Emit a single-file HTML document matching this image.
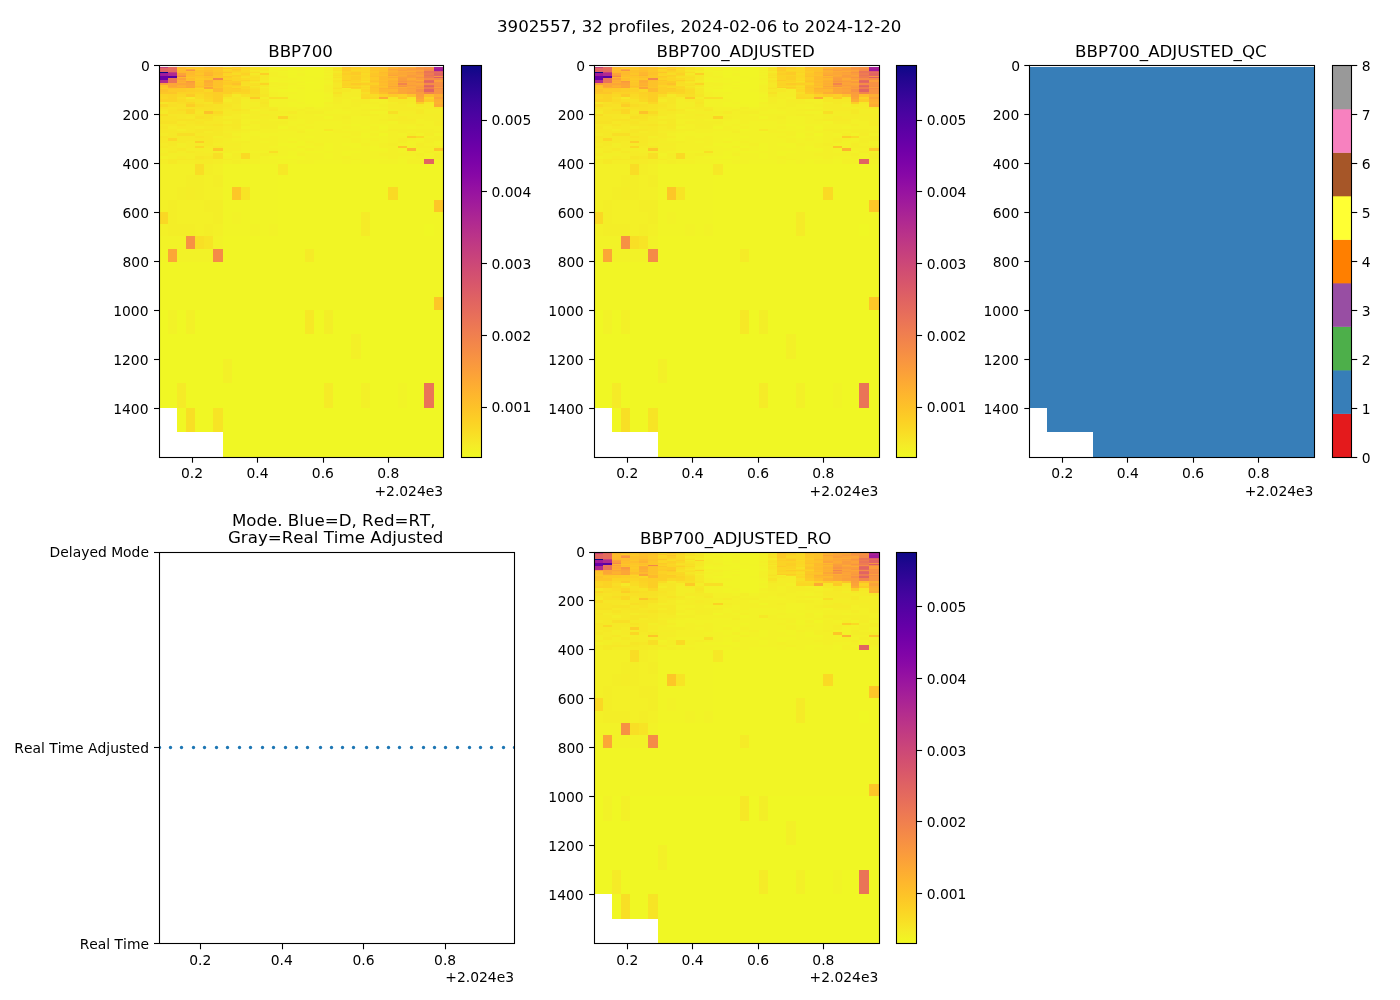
<!DOCTYPE html>
<html><head><meta charset="utf-8"><title>3902557</title>
<style>html,body{margin:0;padding:0;background:#fff}svg{display:block}text{font-variant-ligatures:none;font-kerning:none}</style></head>
<body>
<svg width="1400" height="1000" viewBox="0 0 1400 1000" font-family="DejaVu Sans, Liberation Sans, sans-serif" fill="#000">
<rect width="1400" height="1000" fill="#fff"/>
<defs><linearGradient id="pl" x1="0" y1="0" x2="0" y2="1"><stop offset="0.0000" stop-color="#0d0887"/><stop offset="0.0312" stop-color="#20068f"/><stop offset="0.0625" stop-color="#2f0596"/><stop offset="0.0938" stop-color="#3e049c"/><stop offset="0.1250" stop-color="#4b03a1"/><stop offset="0.1562" stop-color="#5801a4"/><stop offset="0.1875" stop-color="#6400a7"/><stop offset="0.2188" stop-color="#7100a8"/><stop offset="0.2500" stop-color="#7d03a8"/><stop offset="0.2812" stop-color="#8808a6"/><stop offset="0.3125" stop-color="#9410a2"/><stop offset="0.3438" stop-color="#9e199d"/><stop offset="0.3750" stop-color="#a82296"/><stop offset="0.4062" stop-color="#b22b8f"/><stop offset="0.4375" stop-color="#bb3488"/><stop offset="0.4688" stop-color="#c33d80"/><stop offset="0.5000" stop-color="#cb4679"/><stop offset="0.5312" stop-color="#d24f71"/><stop offset="0.5625" stop-color="#d9586a"/><stop offset="0.5938" stop-color="#df6263"/><stop offset="0.6250" stop-color="#e56b5d"/><stop offset="0.6562" stop-color="#eb7556"/><stop offset="0.6875" stop-color="#f07f4f"/><stop offset="0.7188" stop-color="#f48948"/><stop offset="0.7500" stop-color="#f89441"/><stop offset="0.7812" stop-color="#fb9f3a"/><stop offset="0.8125" stop-color="#fdab33"/><stop offset="0.8438" stop-color="#feb72d"/><stop offset="0.8750" stop-color="#fdc328"/><stop offset="0.9062" stop-color="#fcd025"/><stop offset="0.9375" stop-color="#f9dd25"/><stop offset="0.9688" stop-color="#f5eb27"/><stop offset="1.0000" stop-color="#f0f921"/></linearGradient>
<g id="hm" shape-rendering="crispEdges">
<rect x="1" y="1.713" width="8" height="0.857" fill="#c5407e"/>
<rect x="1" y="2.57" width="8" height="4.773" fill="#e16462"/>
<rect x="1" y="7.343" width="8" height="0.735" fill="#0d0887"/>
<rect x="1" y="8.078" width="8" height="2.937" fill="#a11b9b"/>
<rect x="1" y="11.015" width="8" height="3.672" fill="#6a00a8"/>
<rect x="1" y="14.687" width="8" height="3.672" fill="#b12a90"/>
<rect x="1" y="18.359" width="8" height="1.223" fill="#fb9f3a"/>
<rect x="1" y="19.582" width="8" height="2.448" fill="#fdc229"/>
<rect x="1" y="22.03" width="8" height="1.224" fill="#fdc627"/>
<rect x="1" y="23.254" width="8" height="1.224" fill="#fdca26"/>
<rect x="1" y="24.478" width="8" height="2.448" fill="#fdc229"/>
<rect x="1" y="26.926" width="8" height="2.448" fill="#fdc627"/>
<rect x="1" y="29.374" width="8" height="2.448" fill="#fbd524"/>
<rect x="1" y="31.822" width="8" height="2.447" fill="#fbd724"/>
<rect x="1" y="34.269" width="8" height="2.448" fill="#fcd225"/>
<rect x="1" y="36.717" width="8" height="2.448" fill="#f6e626"/>
<rect x="1" y="39.165" width="8" height="2.448" fill="#fad824"/>
<rect x="1" y="41.613" width="8" height="2.448" fill="#f7e225"/>
<rect x="1" y="44.061" width="8" height="2.447" fill="#f6e626"/>
<rect x="1" y="46.508" width="8" height="2.448" fill="#f5e926"/>
<rect x="1" y="48.956" width="8" height="2.448" fill="#f9dc24"/>
<rect x="1" y="51.404" width="8" height="4.896" fill="#f7e425"/>
<rect x="1" y="56.3" width="8" height="2.447" fill="#f7e225"/>
<rect x="1" y="58.747" width="8" height="2.448" fill="#f6e826"/>
<rect x="1" y="61.195" width="8" height="2.448" fill="#f6e626"/>
<rect x="1" y="63.643" width="8" height="4.896" fill="#f6e826"/>
<rect x="1" y="68.539" width="8" height="2.448" fill="#f5eb27"/>
<rect x="1" y="70.987" width="8" height="2.447" fill="#f6e626"/>
<rect x="1" y="73.434" width="8" height="4.896" fill="#f6e826"/>
<rect x="1" y="78.33" width="8" height="2.448" fill="#f5eb27"/>
<rect x="1" y="80.778" width="8" height="2.448" fill="#f5e926"/>
<rect x="1" y="83.226" width="8" height="2.447" fill="#f4ed27"/>
<rect x="1" y="85.673" width="8" height="2.448" fill="#f3ee27"/>
<rect x="1" y="88.121" width="8" height="2.448" fill="#f5eb27"/>
<rect x="1" y="90.569" width="8" height="3.182" fill="#f3f027"/>
<rect x="1" y="93.751" width="8" height="1.714" fill="#f5eb27"/>
<rect x="1" y="95.465" width="8" height="3.427" fill="#f4ed27"/>
<rect x="1" y="98.892" width="8" height="47.977" fill="#f3f027"/>
<rect x="1" y="146.869" width="8" height="12.239" fill="#fad824"/>
<rect x="1" y="159.108" width="8" height="12.239" fill="#f3f027"/>
<rect x="1" y="171.347" width="8" height="12.239" fill="#f2f227"/>
<rect x="1" y="183.586" width="8" height="12.973" fill="#f1f426"/>
<rect x="1" y="196.559" width="8" height="48.222" fill="#f1f525"/>
<rect x="1" y="244.781" width="8" height="97.913" fill="#f0f724"/>
<rect x="9" y="1.713" width="9" height="5.630" fill="#e56b5d"/>
<rect x="9" y="7.343" width="9" height="0.735" fill="#c5407e"/>
<rect x="9" y="8.078" width="9" height="2.937" fill="#b12a90"/>
<rect x="9" y="11.015" width="9" height="2.448" fill="#5601a4"/>
<rect x="9" y="13.463" width="9" height="4.896" fill="#ea7457"/>
<rect x="9" y="18.359" width="9" height="3.671" fill="#fca636"/>
<rect x="9" y="22.03" width="9" height="1.224" fill="#fdae32"/>
<rect x="9" y="23.254" width="9" height="1.224" fill="#fdc627"/>
<rect x="9" y="24.478" width="9" height="2.448" fill="#fdca26"/>
<rect x="9" y="26.926" width="9" height="2.448" fill="#fdc627"/>
<rect x="9" y="29.374" width="9" height="7.343" fill="#fbd324"/>
<rect x="9" y="36.717" width="9" height="2.448" fill="#f8e125"/>
<rect x="9" y="39.165" width="9" height="2.448" fill="#f8df25"/>
<rect x="9" y="41.613" width="9" height="2.448" fill="#f7e425"/>
<rect x="9" y="44.061" width="9" height="2.447" fill="#f7e225"/>
<rect x="9" y="46.508" width="9" height="2.448" fill="#f8e125"/>
<rect x="9" y="48.956" width="9" height="2.448" fill="#f6e626"/>
<rect x="9" y="51.404" width="9" height="4.896" fill="#f7e425"/>
<rect x="9" y="56.3" width="9" height="2.447" fill="#f7e225"/>
<rect x="9" y="58.747" width="9" height="2.448" fill="#f6e826"/>
<rect x="9" y="61.195" width="9" height="2.448" fill="#f5eb27"/>
<rect x="9" y="63.643" width="9" height="2.448" fill="#f5e926"/>
<rect x="9" y="66.091" width="9" height="2.448" fill="#f6e826"/>
<rect x="9" y="68.539" width="9" height="4.895" fill="#f5e926"/>
<rect x="9" y="73.434" width="9" height="2.448" fill="#fbd724"/>
<rect x="9" y="75.882" width="9" height="4.896" fill="#f5e926"/>
<rect x="9" y="80.778" width="9" height="4.895" fill="#f5eb27"/>
<rect x="9" y="85.673" width="9" height="2.448" fill="#f5e926"/>
<rect x="9" y="88.121" width="9" height="5.630" fill="#f3ee27"/>
<rect x="9" y="93.751" width="9" height="5.141" fill="#f5e926"/>
<rect x="9" y="98.892" width="9" height="35.738" fill="#f3f027"/>
<rect x="9" y="134.63" width="9" height="36.717" fill="#f3ee27"/>
<rect x="9" y="171.347" width="9" height="12.239" fill="#f2f227"/>
<rect x="9" y="183.586" width="9" height="12.973" fill="#fca636"/>
<rect x="9" y="196.559" width="9" height="48.222" fill="#f1f525"/>
<rect x="9" y="244.781" width="9" height="24.478" fill="#f2f227"/>
<rect x="9" y="269.259" width="9" height="73.435" fill="#f0f724"/>
<rect x="18" y="1.713" width="9" height="1.959" fill="#feba2c"/>
<rect x="18" y="3.672" width="9" height="1.224" fill="#febe2a"/>
<rect x="18" y="4.896" width="9" height="2.447" fill="#feba2c"/>
<rect x="18" y="7.343" width="9" height="0.735" fill="#feb72d"/>
<rect x="18" y="8.078" width="9" height="1.713" fill="#fca338"/>
<rect x="18" y="9.791" width="9" height="1.224" fill="#fa9c3c"/>
<rect x="18" y="11.015" width="9" height="1.224" fill="#f58b47"/>
<rect x="18" y="12.239" width="9" height="1.224" fill="#feb72d"/>
<rect x="18" y="13.463" width="9" height="1.224" fill="#fca338"/>
<rect x="18" y="14.687" width="9" height="1.224" fill="#fdae32"/>
<rect x="18" y="15.911" width="9" height="1.224" fill="#fdab33"/>
<rect x="18" y="17.135" width="9" height="1.224" fill="#fdb22f"/>
<rect x="18" y="18.359" width="9" height="1.223" fill="#fca636"/>
<rect x="18" y="19.582" width="9" height="1.224" fill="#fdae32"/>
<rect x="18" y="20.806" width="9" height="1.224" fill="#fdb22f"/>
<rect x="18" y="22.03" width="9" height="1.224" fill="#fdab33"/>
<rect x="18" y="23.254" width="9" height="3.672" fill="#fdca26"/>
<rect x="18" y="26.926" width="9" height="2.448" fill="#fbd324"/>
<rect x="18" y="29.374" width="9" height="2.448" fill="#fad824"/>
<rect x="18" y="31.822" width="9" height="2.447" fill="#f9dd25"/>
<rect x="18" y="34.269" width="9" height="2.448" fill="#fada24"/>
<rect x="18" y="36.717" width="9" height="2.448" fill="#f9dd25"/>
<rect x="18" y="39.165" width="9" height="2.448" fill="#f8e125"/>
<rect x="18" y="41.613" width="9" height="2.448" fill="#f7e225"/>
<rect x="18" y="44.061" width="9" height="2.447" fill="#f9dd25"/>
<rect x="18" y="46.508" width="9" height="2.448" fill="#f7e225"/>
<rect x="18" y="48.956" width="9" height="4.896" fill="#f6e626"/>
<rect x="18" y="53.852" width="9" height="2.448" fill="#f7e225"/>
<rect x="18" y="56.3" width="9" height="2.447" fill="#f6e826"/>
<rect x="18" y="58.747" width="9" height="2.448" fill="#f7e425"/>
<rect x="18" y="61.195" width="9" height="2.448" fill="#f6e826"/>
<rect x="18" y="63.643" width="9" height="2.448" fill="#f4ed27"/>
<rect x="18" y="66.091" width="9" height="2.448" fill="#f5e926"/>
<rect x="18" y="68.539" width="9" height="2.448" fill="#f8df25"/>
<rect x="18" y="70.987" width="9" height="7.343" fill="#f5e926"/>
<rect x="18" y="78.33" width="9" height="2.448" fill="#f3ee27"/>
<rect x="18" y="80.778" width="9" height="2.448" fill="#f4ed27"/>
<rect x="18" y="83.226" width="9" height="2.447" fill="#f6e826"/>
<rect x="18" y="85.673" width="9" height="2.448" fill="#f4ed27"/>
<rect x="18" y="88.121" width="9" height="2.448" fill="#f3ee27"/>
<rect x="18" y="90.569" width="9" height="3.182" fill="#f5eb27"/>
<rect x="18" y="93.751" width="9" height="1.714" fill="#f6e826"/>
<rect x="18" y="95.465" width="9" height="3.427" fill="#f4ed27"/>
<rect x="18" y="98.892" width="9" height="23.499" fill="#f3f027"/>
<rect x="18" y="122.391" width="9" height="12.239" fill="#f3ee27"/>
<rect x="18" y="134.63" width="9" height="24.478" fill="#f3f027"/>
<rect x="18" y="159.108" width="9" height="12.239" fill="#f3ee27"/>
<rect x="18" y="171.347" width="9" height="25.212" fill="#f2f227"/>
<rect x="18" y="196.559" width="9" height="48.222" fill="#f1f525"/>
<rect x="18" y="244.781" width="9" height="73.435" fill="#f0f724"/>
<rect x="18" y="318.216" width="9" height="24.478" fill="#f5eb27"/>
<rect x="18" y="342.694" width="9" height="24.478" fill="#f0f724"/>
<rect x="27" y="1.713" width="9" height="0.857" fill="#fdc229"/>
<rect x="27" y="2.57" width="9" height="1.102" fill="#fdca26"/>
<rect x="27" y="3.672" width="9" height="1.224" fill="#fca636"/>
<rect x="27" y="4.896" width="9" height="1.224" fill="#f89441"/>
<rect x="27" y="6.12" width="9" height="1.223" fill="#febe2a"/>
<rect x="27" y="7.343" width="9" height="2.448" fill="#feba2c"/>
<rect x="27" y="9.791" width="9" height="2.448" fill="#febe2a"/>
<rect x="27" y="12.239" width="9" height="1.224" fill="#fdc627"/>
<rect x="27" y="13.463" width="9" height="1.224" fill="#febe2a"/>
<rect x="27" y="14.687" width="9" height="1.224" fill="#fdc229"/>
<rect x="27" y="15.911" width="9" height="1.224" fill="#f9983e"/>
<rect x="27" y="17.135" width="9" height="1.224" fill="#fb9f3a"/>
<rect x="27" y="18.359" width="9" height="1.223" fill="#fca338"/>
<rect x="27" y="19.582" width="9" height="2.448" fill="#fca636"/>
<rect x="27" y="22.03" width="9" height="1.224" fill="#fca338"/>
<rect x="27" y="23.254" width="9" height="3.672" fill="#fcce25"/>
<rect x="27" y="26.926" width="9" height="2.448" fill="#fcd225"/>
<rect x="27" y="29.374" width="9" height="2.448" fill="#fdca26"/>
<rect x="27" y="31.822" width="9" height="2.447" fill="#f5e926"/>
<rect x="27" y="34.269" width="9" height="2.448" fill="#f8df25"/>
<rect x="27" y="36.717" width="9" height="2.448" fill="#fbd724"/>
<rect x="27" y="39.165" width="9" height="2.448" fill="#fcce25"/>
<rect x="27" y="41.613" width="9" height="2.448" fill="#f8e125"/>
<rect x="27" y="44.061" width="9" height="4.895" fill="#fbd724"/>
<rect x="27" y="48.956" width="9" height="2.448" fill="#f6e626"/>
<rect x="27" y="51.404" width="9" height="2.448" fill="#f6e826"/>
<rect x="27" y="53.852" width="9" height="2.448" fill="#f7e225"/>
<rect x="27" y="56.3" width="9" height="2.447" fill="#f6e626"/>
<rect x="27" y="58.747" width="9" height="2.448" fill="#f6e826"/>
<rect x="27" y="61.195" width="9" height="4.896" fill="#f5e926"/>
<rect x="27" y="66.091" width="9" height="2.448" fill="#f6e826"/>
<rect x="27" y="68.539" width="9" height="2.448" fill="#f8df25"/>
<rect x="27" y="70.987" width="9" height="4.895" fill="#f5e926"/>
<rect x="27" y="75.882" width="9" height="7.344" fill="#f5eb27"/>
<rect x="27" y="83.226" width="9" height="2.447" fill="#f4ed27"/>
<rect x="27" y="85.673" width="9" height="2.448" fill="#f5e926"/>
<rect x="27" y="88.121" width="9" height="5.630" fill="#f4ed27"/>
<rect x="27" y="93.751" width="9" height="1.714" fill="#f5e926"/>
<rect x="27" y="95.465" width="9" height="3.427" fill="#f4ed27"/>
<rect x="27" y="98.892" width="9" height="11.260" fill="#f3f027"/>
<rect x="27" y="110.152" width="9" height="12.239" fill="#f3ee27"/>
<rect x="27" y="122.391" width="9" height="12.239" fill="#f4ed27"/>
<rect x="27" y="134.63" width="9" height="24.478" fill="#f3f027"/>
<rect x="27" y="159.108" width="9" height="12.239" fill="#f3ee27"/>
<rect x="27" y="171.347" width="9" height="12.239" fill="#f79143"/>
<rect x="27" y="183.586" width="9" height="12.973" fill="#f2f227"/>
<rect x="27" y="196.559" width="9" height="48.222" fill="#f1f525"/>
<rect x="27" y="244.781" width="9" height="24.478" fill="#f3f027"/>
<rect x="27" y="269.259" width="9" height="73.435" fill="#f0f724"/>
<rect x="27" y="342.694" width="9" height="24.478" fill="#f8df25"/>
<rect x="36" y="1.713" width="9" height="0.857" fill="#fdca26"/>
<rect x="36" y="2.57" width="9" height="1.102" fill="#fdc627"/>
<rect x="36" y="3.672" width="9" height="1.224" fill="#fdca26"/>
<rect x="36" y="4.896" width="9" height="3.182" fill="#fdc229"/>
<rect x="36" y="8.078" width="9" height="1.713" fill="#fdc627"/>
<rect x="36" y="9.791" width="9" height="1.224" fill="#febe2a"/>
<rect x="36" y="11.015" width="9" height="2.448" fill="#fdc627"/>
<rect x="36" y="13.463" width="9" height="1.224" fill="#fdca26"/>
<rect x="36" y="14.687" width="9" height="1.224" fill="#fdc627"/>
<rect x="36" y="15.911" width="9" height="1.224" fill="#fdca26"/>
<rect x="36" y="17.135" width="9" height="3.671" fill="#fdc627"/>
<rect x="36" y="20.806" width="9" height="1.224" fill="#febe2a"/>
<rect x="36" y="22.03" width="9" height="1.224" fill="#fdc627"/>
<rect x="36" y="23.254" width="9" height="1.224" fill="#fbd524"/>
<rect x="36" y="24.478" width="9" height="2.448" fill="#fcd025"/>
<rect x="36" y="26.926" width="9" height="2.448" fill="#fbd524"/>
<rect x="36" y="29.374" width="9" height="2.448" fill="#fada24"/>
<rect x="36" y="31.822" width="9" height="2.447" fill="#f9dc24"/>
<rect x="36" y="34.269" width="9" height="2.448" fill="#f7e225"/>
<rect x="36" y="36.717" width="9" height="2.448" fill="#f8e125"/>
<rect x="36" y="39.165" width="9" height="2.448" fill="#f9dc24"/>
<rect x="36" y="41.613" width="9" height="2.448" fill="#f8e125"/>
<rect x="36" y="44.061" width="9" height="2.447" fill="#f7e425"/>
<rect x="36" y="46.508" width="9" height="2.448" fill="#f6e626"/>
<rect x="36" y="48.956" width="9" height="2.448" fill="#f7e425"/>
<rect x="36" y="51.404" width="9" height="2.448" fill="#f8df25"/>
<rect x="36" y="53.852" width="9" height="2.448" fill="#f6e626"/>
<rect x="36" y="56.3" width="9" height="2.447" fill="#f7e425"/>
<rect x="36" y="58.747" width="9" height="2.448" fill="#f6e626"/>
<rect x="36" y="61.195" width="9" height="2.448" fill="#f5eb27"/>
<rect x="36" y="63.643" width="9" height="4.896" fill="#f6e626"/>
<rect x="36" y="68.539" width="9" height="2.448" fill="#f5e926"/>
<rect x="36" y="70.987" width="9" height="2.447" fill="#f7e425"/>
<rect x="36" y="73.434" width="9" height="2.448" fill="#f6e826"/>
<rect x="36" y="75.882" width="9" height="2.448" fill="#fcce25"/>
<rect x="36" y="78.33" width="9" height="2.448" fill="#f5eb27"/>
<rect x="36" y="80.778" width="9" height="2.448" fill="#fbd724"/>
<rect x="36" y="83.226" width="9" height="2.447" fill="#f4ed27"/>
<rect x="36" y="85.673" width="9" height="4.896" fill="#f5eb27"/>
<rect x="36" y="90.569" width="9" height="3.182" fill="#f6e626"/>
<rect x="36" y="93.751" width="9" height="1.714" fill="#f5e926"/>
<rect x="36" y="95.465" width="9" height="3.427" fill="#f5eb27"/>
<rect x="36" y="98.892" width="9" height="11.260" fill="#f9dd25"/>
<rect x="36" y="110.152" width="9" height="24.478" fill="#f3ee27"/>
<rect x="36" y="134.63" width="9" height="36.717" fill="#f3f027"/>
<rect x="36" y="171.347" width="9" height="12.239" fill="#f8df25"/>
<rect x="36" y="183.586" width="9" height="12.973" fill="#f2f227"/>
<rect x="36" y="196.559" width="9" height="48.222" fill="#f1f525"/>
<rect x="36" y="244.781" width="9" height="122.391" fill="#f0f724"/>
<rect x="45" y="1.713" width="9" height="0.857" fill="#febe2a"/>
<rect x="45" y="2.57" width="9" height="2.326" fill="#fdc229"/>
<rect x="45" y="4.896" width="9" height="2.447" fill="#febe2a"/>
<rect x="45" y="7.343" width="9" height="2.448" fill="#feb72d"/>
<rect x="45" y="9.791" width="9" height="1.224" fill="#fdb22f"/>
<rect x="45" y="11.015" width="9" height="1.224" fill="#fdc229"/>
<rect x="45" y="12.239" width="9" height="1.224" fill="#febe2a"/>
<rect x="45" y="13.463" width="9" height="1.224" fill="#fdc627"/>
<rect x="45" y="14.687" width="9" height="1.224" fill="#fdae32"/>
<rect x="45" y="15.911" width="9" height="1.224" fill="#fdab33"/>
<rect x="45" y="17.135" width="9" height="1.224" fill="#fdae32"/>
<rect x="45" y="18.359" width="9" height="1.223" fill="#fdb22f"/>
<rect x="45" y="19.582" width="9" height="1.224" fill="#fdae32"/>
<rect x="45" y="20.806" width="9" height="1.224" fill="#feba2c"/>
<rect x="45" y="22.03" width="9" height="1.224" fill="#fca338"/>
<rect x="45" y="23.254" width="9" height="1.224" fill="#fca636"/>
<rect x="45" y="24.478" width="9" height="2.448" fill="#fad824"/>
<rect x="45" y="26.926" width="9" height="2.448" fill="#fcd025"/>
<rect x="45" y="29.374" width="9" height="2.448" fill="#fbd324"/>
<rect x="45" y="31.822" width="9" height="2.447" fill="#fbd524"/>
<rect x="45" y="34.269" width="9" height="2.448" fill="#fad824"/>
<rect x="45" y="36.717" width="9" height="2.448" fill="#f7e425"/>
<rect x="45" y="39.165" width="9" height="2.448" fill="#f8df25"/>
<rect x="45" y="41.613" width="9" height="4.895" fill="#f8e125"/>
<rect x="45" y="46.508" width="9" height="2.448" fill="#fdc229"/>
<rect x="45" y="48.956" width="9" height="4.896" fill="#f7e225"/>
<rect x="45" y="53.852" width="9" height="2.448" fill="#f7e425"/>
<rect x="45" y="56.3" width="9" height="2.447" fill="#f6e826"/>
<rect x="45" y="58.747" width="9" height="2.448" fill="#f6e626"/>
<rect x="45" y="61.195" width="9" height="2.448" fill="#f5e926"/>
<rect x="45" y="63.643" width="9" height="2.448" fill="#f6e626"/>
<rect x="45" y="66.091" width="9" height="2.448" fill="#f5eb27"/>
<rect x="45" y="68.539" width="9" height="2.448" fill="#f5e926"/>
<rect x="45" y="70.987" width="9" height="7.343" fill="#f6e826"/>
<rect x="45" y="78.33" width="9" height="2.448" fill="#f5e926"/>
<rect x="45" y="80.778" width="9" height="2.448" fill="#f5eb27"/>
<rect x="45" y="83.226" width="9" height="4.895" fill="#f4ed27"/>
<rect x="45" y="88.121" width="9" height="2.448" fill="#f5eb27"/>
<rect x="45" y="90.569" width="9" height="3.182" fill="#f6e826"/>
<rect x="45" y="93.751" width="9" height="5.141" fill="#f5eb27"/>
<rect x="45" y="98.892" width="9" height="11.260" fill="#f3ee27"/>
<rect x="45" y="110.152" width="9" height="24.478" fill="#f3f027"/>
<rect x="45" y="134.63" width="9" height="12.239" fill="#f3ee27"/>
<rect x="45" y="146.869" width="9" height="12.239" fill="#f3f027"/>
<rect x="45" y="159.108" width="9" height="12.239" fill="#f3ee27"/>
<rect x="45" y="171.347" width="9" height="12.239" fill="#f7e425"/>
<rect x="45" y="183.586" width="9" height="12.973" fill="#f2f227"/>
<rect x="45" y="196.559" width="9" height="48.222" fill="#f1f525"/>
<rect x="45" y="244.781" width="9" height="122.391" fill="#f0f724"/>
<rect x="54" y="1.713" width="10" height="0.857" fill="#fdc627"/>
<rect x="54" y="2.57" width="10" height="1.102" fill="#fdc229"/>
<rect x="54" y="3.672" width="10" height="3.671" fill="#fdc627"/>
<rect x="54" y="7.343" width="10" height="2.448" fill="#fdc229"/>
<rect x="54" y="9.791" width="10" height="3.672" fill="#fdc627"/>
<rect x="54" y="13.463" width="10" height="1.224" fill="#f3874a"/>
<rect x="54" y="14.687" width="10" height="1.224" fill="#febe2a"/>
<rect x="54" y="15.911" width="10" height="6.119" fill="#fdc229"/>
<rect x="54" y="22.03" width="10" height="1.224" fill="#fdc627"/>
<rect x="54" y="23.254" width="10" height="3.672" fill="#feba2c"/>
<rect x="54" y="26.926" width="10" height="9.791" fill="#fcce25"/>
<rect x="54" y="36.717" width="10" height="2.448" fill="#fbd724"/>
<rect x="54" y="39.165" width="10" height="4.896" fill="#f7e225"/>
<rect x="54" y="44.061" width="10" height="2.447" fill="#f7e425"/>
<rect x="54" y="46.508" width="10" height="2.448" fill="#fada24"/>
<rect x="54" y="48.956" width="10" height="2.448" fill="#f7e225"/>
<rect x="54" y="51.404" width="10" height="2.448" fill="#f6e826"/>
<rect x="54" y="53.852" width="10" height="2.448" fill="#f5e926"/>
<rect x="54" y="56.3" width="10" height="2.447" fill="#f6e826"/>
<rect x="54" y="58.747" width="10" height="2.448" fill="#f7e425"/>
<rect x="54" y="61.195" width="10" height="4.896" fill="#f6e826"/>
<rect x="54" y="66.091" width="10" height="4.896" fill="#f5e926"/>
<rect x="54" y="70.987" width="10" height="2.447" fill="#f3ee27"/>
<rect x="54" y="73.434" width="10" height="4.896" fill="#f5eb27"/>
<rect x="54" y="78.33" width="10" height="2.448" fill="#f4ed27"/>
<rect x="54" y="80.778" width="10" height="2.448" fill="#f5e926"/>
<rect x="54" y="83.226" width="10" height="2.447" fill="#fdc627"/>
<rect x="54" y="85.673" width="10" height="2.448" fill="#f4ed27"/>
<rect x="54" y="88.121" width="10" height="5.630" fill="#f8df25"/>
<rect x="54" y="93.751" width="10" height="5.141" fill="#f4ed27"/>
<rect x="54" y="98.892" width="10" height="11.260" fill="#f3f027"/>
<rect x="54" y="110.152" width="10" height="12.239" fill="#f3ee27"/>
<rect x="54" y="122.391" width="10" height="12.239" fill="#f3f027"/>
<rect x="54" y="134.63" width="10" height="24.478" fill="#f3ee27"/>
<rect x="54" y="159.108" width="10" height="12.239" fill="#f3f027"/>
<rect x="54" y="171.347" width="10" height="12.239" fill="#f2f227"/>
<rect x="54" y="183.586" width="10" height="12.973" fill="#f58b47"/>
<rect x="54" y="196.559" width="10" height="48.222" fill="#f1f525"/>
<rect x="54" y="244.781" width="10" height="97.913" fill="#f0f724"/>
<rect x="54" y="342.694" width="10" height="24.478" fill="#f7e425"/>
<rect x="64" y="1.713" width="9" height="0.857" fill="#fada24"/>
<rect x="64" y="2.57" width="9" height="1.102" fill="#fdc627"/>
<rect x="64" y="3.672" width="9" height="1.224" fill="#fbd724"/>
<rect x="64" y="4.896" width="9" height="1.224" fill="#fbd524"/>
<rect x="64" y="6.12" width="9" height="1.223" fill="#fcd225"/>
<rect x="64" y="7.343" width="9" height="0.735" fill="#fdc627"/>
<rect x="64" y="8.078" width="9" height="1.713" fill="#fbd524"/>
<rect x="64" y="9.791" width="9" height="1.224" fill="#fbd724"/>
<rect x="64" y="11.015" width="9" height="1.224" fill="#fdca26"/>
<rect x="64" y="12.239" width="9" height="1.224" fill="#fcce25"/>
<rect x="64" y="13.463" width="9" height="1.224" fill="#fbd324"/>
<rect x="64" y="14.687" width="9" height="1.224" fill="#fdc627"/>
<rect x="64" y="15.911" width="9" height="1.224" fill="#fcce25"/>
<rect x="64" y="17.135" width="9" height="2.447" fill="#fdca26"/>
<rect x="64" y="19.582" width="9" height="1.224" fill="#fbd324"/>
<rect x="64" y="20.806" width="9" height="1.224" fill="#fcd225"/>
<rect x="64" y="22.03" width="9" height="7.344" fill="#fcce25"/>
<rect x="64" y="29.374" width="9" height="2.448" fill="#f9dc24"/>
<rect x="64" y="31.822" width="9" height="2.447" fill="#f6e626"/>
<rect x="64" y="34.269" width="9" height="2.448" fill="#f5eb27"/>
<rect x="64" y="36.717" width="9" height="2.448" fill="#f6e626"/>
<rect x="64" y="39.165" width="9" height="2.448" fill="#f7e425"/>
<rect x="64" y="41.613" width="9" height="2.448" fill="#f6e626"/>
<rect x="64" y="44.061" width="9" height="2.447" fill="#f6e826"/>
<rect x="64" y="46.508" width="9" height="2.448" fill="#f5e926"/>
<rect x="64" y="48.956" width="9" height="2.448" fill="#f6e826"/>
<rect x="64" y="51.404" width="9" height="2.448" fill="#f4ed27"/>
<rect x="64" y="53.852" width="9" height="2.448" fill="#f5e926"/>
<rect x="64" y="56.3" width="9" height="2.447" fill="#f4ed27"/>
<rect x="64" y="58.747" width="9" height="2.448" fill="#f6e826"/>
<rect x="64" y="61.195" width="9" height="4.896" fill="#f5eb27"/>
<rect x="64" y="66.091" width="9" height="2.448" fill="#f4ed27"/>
<rect x="64" y="68.539" width="9" height="4.895" fill="#f5eb27"/>
<rect x="64" y="73.434" width="9" height="2.448" fill="#f4ed27"/>
<rect x="64" y="75.882" width="9" height="2.448" fill="#f3ee27"/>
<rect x="64" y="78.33" width="9" height="2.448" fill="#f4ed27"/>
<rect x="64" y="80.778" width="9" height="2.448" fill="#f3ee27"/>
<rect x="64" y="83.226" width="9" height="2.447" fill="#f4ed27"/>
<rect x="64" y="85.673" width="9" height="2.448" fill="#f3ee27"/>
<rect x="64" y="88.121" width="9" height="2.448" fill="#f2f227"/>
<rect x="64" y="90.569" width="9" height="3.182" fill="#f3f027"/>
<rect x="64" y="93.751" width="9" height="1.714" fill="#f5eb27"/>
<rect x="64" y="95.465" width="9" height="3.427" fill="#f3f027"/>
<rect x="64" y="98.892" width="9" height="72.455" fill="#f1f426"/>
<rect x="64" y="171.347" width="9" height="73.434" fill="#f1f525"/>
<rect x="64" y="244.781" width="9" height="48.956" fill="#f0f724"/>
<rect x="64" y="293.737" width="9" height="24.479" fill="#f3f027"/>
<rect x="64" y="318.216" width="9" height="74.784" fill="#f0f724"/>
<rect x="73" y="1.713" width="9" height="0.857" fill="#fdca26"/>
<rect x="73" y="2.57" width="9" height="1.102" fill="#fcd225"/>
<rect x="73" y="3.672" width="9" height="1.224" fill="#fdc627"/>
<rect x="73" y="4.896" width="9" height="1.224" fill="#fcce25"/>
<rect x="73" y="6.12" width="9" height="1.223" fill="#fbd324"/>
<rect x="73" y="7.343" width="9" height="0.735" fill="#fad824"/>
<rect x="73" y="8.078" width="9" height="1.713" fill="#f9dc24"/>
<rect x="73" y="9.791" width="9" height="1.224" fill="#fcd025"/>
<rect x="73" y="11.015" width="9" height="1.224" fill="#fbd324"/>
<rect x="73" y="12.239" width="9" height="1.224" fill="#fbd724"/>
<rect x="73" y="13.463" width="9" height="2.448" fill="#fbd524"/>
<rect x="73" y="15.911" width="9" height="2.448" fill="#fdca26"/>
<rect x="73" y="18.359" width="9" height="1.223" fill="#fdc229"/>
<rect x="73" y="19.582" width="9" height="1.224" fill="#fcce25"/>
<rect x="73" y="20.806" width="9" height="1.224" fill="#fbd524"/>
<rect x="73" y="22.03" width="9" height="1.224" fill="#fbd724"/>
<rect x="73" y="23.254" width="9" height="1.224" fill="#fdca26"/>
<rect x="73" y="24.478" width="9" height="2.448" fill="#fcce25"/>
<rect x="73" y="26.926" width="9" height="2.448" fill="#fad824"/>
<rect x="73" y="29.374" width="9" height="2.448" fill="#f5e926"/>
<rect x="73" y="31.822" width="9" height="7.343" fill="#f6e626"/>
<rect x="73" y="39.165" width="9" height="4.896" fill="#f6e826"/>
<rect x="73" y="44.061" width="9" height="2.447" fill="#f7e425"/>
<rect x="73" y="46.508" width="9" height="2.448" fill="#f5e926"/>
<rect x="73" y="48.956" width="9" height="4.896" fill="#f5eb27"/>
<rect x="73" y="53.852" width="9" height="4.895" fill="#f5e926"/>
<rect x="73" y="58.747" width="9" height="2.448" fill="#f6e826"/>
<rect x="73" y="61.195" width="9" height="2.448" fill="#f5e926"/>
<rect x="73" y="63.643" width="9" height="2.448" fill="#f5eb27"/>
<rect x="73" y="66.091" width="9" height="2.448" fill="#f3ee27"/>
<rect x="73" y="68.539" width="9" height="2.448" fill="#f3f027"/>
<rect x="73" y="70.987" width="9" height="2.447" fill="#f4ed27"/>
<rect x="73" y="73.434" width="9" height="2.448" fill="#f3f027"/>
<rect x="73" y="75.882" width="9" height="2.448" fill="#f3ee27"/>
<rect x="73" y="78.33" width="9" height="2.448" fill="#f4ed27"/>
<rect x="73" y="80.778" width="9" height="2.448" fill="#f3ee27"/>
<rect x="73" y="83.226" width="9" height="2.447" fill="#f4ed27"/>
<rect x="73" y="85.673" width="9" height="2.448" fill="#f3f027"/>
<rect x="73" y="88.121" width="9" height="2.448" fill="#f4ed27"/>
<rect x="73" y="90.569" width="9" height="3.182" fill="#f3ee27"/>
<rect x="73" y="93.751" width="9" height="1.714" fill="#f3f027"/>
<rect x="73" y="95.465" width="9" height="3.427" fill="#f3ee27"/>
<rect x="73" y="98.892" width="9" height="23.499" fill="#f1f426"/>
<rect x="73" y="122.391" width="9" height="12.239" fill="#fdc627"/>
<rect x="73" y="134.63" width="9" height="12.239" fill="#f1f426"/>
<rect x="73" y="146.869" width="9" height="12.239" fill="#f2f227"/>
<rect x="73" y="159.108" width="9" height="12.239" fill="#f1f426"/>
<rect x="73" y="171.347" width="9" height="73.434" fill="#f1f525"/>
<rect x="73" y="244.781" width="9" height="148.219" fill="#f0f724"/>
<rect x="82" y="1.713" width="9" height="0.857" fill="#fad824"/>
<rect x="82" y="2.57" width="9" height="1.102" fill="#fbd724"/>
<rect x="82" y="3.672" width="9" height="1.224" fill="#f9dc24"/>
<rect x="82" y="4.896" width="9" height="2.447" fill="#fada24"/>
<rect x="82" y="7.343" width="9" height="0.735" fill="#fad824"/>
<rect x="82" y="8.078" width="9" height="1.713" fill="#fcd225"/>
<rect x="82" y="9.791" width="9" height="1.224" fill="#fad824"/>
<rect x="82" y="11.015" width="9" height="1.224" fill="#f8df25"/>
<rect x="82" y="12.239" width="9" height="1.224" fill="#f8e125"/>
<rect x="82" y="13.463" width="9" height="1.224" fill="#fada24"/>
<rect x="82" y="14.687" width="9" height="1.224" fill="#fcd025"/>
<rect x="82" y="15.911" width="9" height="1.224" fill="#f9dc24"/>
<rect x="82" y="17.135" width="9" height="2.447" fill="#f8df25"/>
<rect x="82" y="19.582" width="9" height="1.224" fill="#f8e125"/>
<rect x="82" y="20.806" width="9" height="1.224" fill="#fad824"/>
<rect x="82" y="22.03" width="9" height="1.224" fill="#fbd524"/>
<rect x="82" y="23.254" width="9" height="1.224" fill="#fad824"/>
<rect x="82" y="24.478" width="9" height="2.448" fill="#fbd324"/>
<rect x="82" y="26.926" width="9" height="2.448" fill="#fbd524"/>
<rect x="82" y="29.374" width="9" height="2.448" fill="#f8e125"/>
<rect x="82" y="31.822" width="9" height="2.447" fill="#f5eb27"/>
<rect x="82" y="34.269" width="9" height="9.792" fill="#f3ee27"/>
<rect x="82" y="44.061" width="9" height="2.447" fill="#f5e926"/>
<rect x="82" y="46.508" width="9" height="2.448" fill="#f5eb27"/>
<rect x="82" y="48.956" width="9" height="2.448" fill="#f3f027"/>
<rect x="82" y="51.404" width="9" height="2.448" fill="#f3ee27"/>
<rect x="82" y="53.852" width="9" height="4.895" fill="#f3f027"/>
<rect x="82" y="58.747" width="9" height="2.448" fill="#f3ee27"/>
<rect x="82" y="61.195" width="9" height="2.448" fill="#f2f227"/>
<rect x="82" y="63.643" width="9" height="2.448" fill="#f3ee27"/>
<rect x="82" y="66.091" width="9" height="2.448" fill="#f3f027"/>
<rect x="82" y="68.539" width="9" height="7.343" fill="#f2f227"/>
<rect x="82" y="75.882" width="9" height="2.448" fill="#f3ee27"/>
<rect x="82" y="78.33" width="9" height="7.343" fill="#f3f027"/>
<rect x="82" y="85.673" width="9" height="2.448" fill="#f2f227"/>
<rect x="82" y="88.121" width="9" height="5.630" fill="#fada24"/>
<rect x="82" y="93.751" width="9" height="1.714" fill="#f2f227"/>
<rect x="82" y="95.465" width="9" height="3.427" fill="#f3f027"/>
<rect x="82" y="98.892" width="9" height="23.499" fill="#f1f426"/>
<rect x="82" y="122.391" width="9" height="12.239" fill="#f7e425"/>
<rect x="82" y="134.63" width="9" height="36.717" fill="#f1f426"/>
<rect x="82" y="171.347" width="9" height="73.434" fill="#f1f525"/>
<rect x="82" y="244.781" width="9" height="148.219" fill="#f0f724"/>
<rect x="91" y="1.713" width="10" height="0.857" fill="#f7e425"/>
<rect x="91" y="2.57" width="10" height="2.326" fill="#f7e225"/>
<rect x="91" y="4.896" width="10" height="1.224" fill="#f6e826"/>
<rect x="91" y="6.12" width="10" height="1.223" fill="#f6e626"/>
<rect x="91" y="7.343" width="10" height="0.735" fill="#f8df25"/>
<rect x="91" y="8.078" width="10" height="1.713" fill="#f5e926"/>
<rect x="91" y="9.791" width="10" height="1.224" fill="#f7e425"/>
<rect x="91" y="11.015" width="10" height="1.224" fill="#f7e225"/>
<rect x="91" y="12.239" width="10" height="1.224" fill="#f8df25"/>
<rect x="91" y="13.463" width="10" height="1.224" fill="#f8e125"/>
<rect x="91" y="14.687" width="10" height="1.224" fill="#f9dc24"/>
<rect x="91" y="15.911" width="10" height="1.224" fill="#f7e425"/>
<rect x="91" y="17.135" width="10" height="1.224" fill="#f6e826"/>
<rect x="91" y="18.359" width="10" height="1.223" fill="#f8e125"/>
<rect x="91" y="19.582" width="10" height="1.224" fill="#f8df25"/>
<rect x="91" y="20.806" width="10" height="1.224" fill="#f6e626"/>
<rect x="91" y="22.03" width="10" height="1.224" fill="#f7e225"/>
<rect x="91" y="23.254" width="10" height="1.224" fill="#f8df25"/>
<rect x="91" y="24.478" width="10" height="4.896" fill="#f9dc24"/>
<rect x="91" y="29.374" width="10" height="2.448" fill="#f8df25"/>
<rect x="91" y="31.822" width="10" height="2.447" fill="#fdca26"/>
<rect x="91" y="34.269" width="10" height="2.448" fill="#f5eb27"/>
<rect x="91" y="36.717" width="10" height="4.896" fill="#f3ee27"/>
<rect x="91" y="41.613" width="10" height="2.448" fill="#f5eb27"/>
<rect x="91" y="44.061" width="10" height="2.447" fill="#f3f027"/>
<rect x="91" y="46.508" width="10" height="2.448" fill="#f4ed27"/>
<rect x="91" y="48.956" width="10" height="2.448" fill="#f3ee27"/>
<rect x="91" y="51.404" width="10" height="2.448" fill="#f4ed27"/>
<rect x="91" y="53.852" width="10" height="2.448" fill="#f3f027"/>
<rect x="91" y="56.3" width="10" height="2.447" fill="#f4ed27"/>
<rect x="91" y="58.747" width="10" height="4.896" fill="#f3f027"/>
<rect x="91" y="63.643" width="10" height="2.448" fill="#f3ee27"/>
<rect x="91" y="66.091" width="10" height="4.896" fill="#f2f227"/>
<rect x="91" y="70.987" width="10" height="14.686" fill="#f3f027"/>
<rect x="91" y="85.673" width="10" height="2.448" fill="#f2f227"/>
<rect x="91" y="88.121" width="10" height="5.630" fill="#f3f027"/>
<rect x="91" y="93.751" width="10" height="1.714" fill="#f2f227"/>
<rect x="91" y="95.465" width="10" height="3.427" fill="#f3f027"/>
<rect x="91" y="98.892" width="10" height="60.216" fill="#f1f426"/>
<rect x="91" y="159.108" width="10" height="12.239" fill="#f2f227"/>
<rect x="91" y="171.347" width="10" height="73.434" fill="#f1f525"/>
<rect x="91" y="244.781" width="10" height="148.219" fill="#f0f724"/>
<rect x="101" y="1.713" width="9" height="0.857" fill="#f5eb27"/>
<rect x="101" y="2.57" width="9" height="1.102" fill="#f5e926"/>
<rect x="101" y="3.672" width="9" height="1.224" fill="#f6e626"/>
<rect x="101" y="4.896" width="9" height="1.224" fill="#f5e926"/>
<rect x="101" y="6.12" width="9" height="1.223" fill="#f3ee27"/>
<rect x="101" y="7.343" width="9" height="0.735" fill="#f5eb27"/>
<rect x="101" y="8.078" width="9" height="1.713" fill="#fcd025"/>
<rect x="101" y="9.791" width="9" height="1.224" fill="#f5e926"/>
<rect x="101" y="11.015" width="9" height="1.224" fill="#f6e826"/>
<rect x="101" y="12.239" width="9" height="2.448" fill="#f5e926"/>
<rect x="101" y="14.687" width="9" height="1.224" fill="#f5eb27"/>
<rect x="101" y="15.911" width="9" height="1.224" fill="#f4ed27"/>
<rect x="101" y="17.135" width="9" height="1.224" fill="#f5e926"/>
<rect x="101" y="18.359" width="9" height="1.223" fill="#fbd524"/>
<rect x="101" y="19.582" width="9" height="1.224" fill="#f6e826"/>
<rect x="101" y="20.806" width="9" height="1.224" fill="#f5e926"/>
<rect x="101" y="22.03" width="9" height="1.224" fill="#f4ed27"/>
<rect x="101" y="23.254" width="9" height="6.120" fill="#f5e926"/>
<rect x="101" y="29.374" width="9" height="2.448" fill="#f6e626"/>
<rect x="101" y="31.822" width="9" height="2.447" fill="#f4ed27"/>
<rect x="101" y="34.269" width="9" height="2.448" fill="#f6e826"/>
<rect x="101" y="36.717" width="9" height="2.448" fill="#f6e626"/>
<rect x="101" y="39.165" width="9" height="2.448" fill="#f5e926"/>
<rect x="101" y="41.613" width="9" height="2.448" fill="#f5eb27"/>
<rect x="101" y="44.061" width="9" height="2.447" fill="#f4ed27"/>
<rect x="101" y="46.508" width="9" height="2.448" fill="#f3ee27"/>
<rect x="101" y="48.956" width="9" height="2.448" fill="#f5eb27"/>
<rect x="101" y="51.404" width="9" height="2.448" fill="#f4ed27"/>
<rect x="101" y="53.852" width="9" height="4.895" fill="#f3ee27"/>
<rect x="101" y="58.747" width="9" height="2.448" fill="#f4ed27"/>
<rect x="101" y="61.195" width="9" height="2.448" fill="#f3ee27"/>
<rect x="101" y="63.643" width="9" height="4.896" fill="#f3f027"/>
<rect x="101" y="68.539" width="9" height="4.895" fill="#f2f227"/>
<rect x="101" y="73.434" width="9" height="2.448" fill="#f3f027"/>
<rect x="101" y="75.882" width="9" height="2.448" fill="#f2f227"/>
<rect x="101" y="78.33" width="9" height="7.343" fill="#f3f027"/>
<rect x="101" y="85.673" width="9" height="2.448" fill="#f2f227"/>
<rect x="101" y="88.121" width="9" height="2.448" fill="#f3ee27"/>
<rect x="101" y="90.569" width="9" height="8.323" fill="#f2f227"/>
<rect x="101" y="98.892" width="9" height="72.455" fill="#f1f426"/>
<rect x="101" y="171.347" width="9" height="73.434" fill="#f1f525"/>
<rect x="101" y="244.781" width="9" height="148.219" fill="#f0f724"/>
<rect x="110" y="1.713" width="9" height="0.857" fill="#f3f027"/>
<rect x="110" y="2.57" width="9" height="1.102" fill="#f2f227"/>
<rect x="110" y="3.672" width="9" height="1.224" fill="#f3f027"/>
<rect x="110" y="4.896" width="9" height="2.447" fill="#f2f227"/>
<rect x="110" y="7.343" width="9" height="4.896" fill="#f3f027"/>
<rect x="110" y="12.239" width="9" height="2.448" fill="#f2f227"/>
<rect x="110" y="14.687" width="9" height="1.224" fill="#f1f426"/>
<rect x="110" y="15.911" width="9" height="1.224" fill="#f1f525"/>
<rect x="110" y="17.135" width="9" height="2.447" fill="#f3f027"/>
<rect x="110" y="19.582" width="9" height="1.224" fill="#f2f227"/>
<rect x="110" y="20.806" width="9" height="1.224" fill="#f3f027"/>
<rect x="110" y="22.03" width="9" height="4.896" fill="#f2f227"/>
<rect x="110" y="26.926" width="9" height="4.896" fill="#f3f027"/>
<rect x="110" y="31.822" width="9" height="2.447" fill="#f8df25"/>
<rect x="110" y="34.269" width="9" height="7.344" fill="#f2f227"/>
<rect x="110" y="41.613" width="9" height="2.448" fill="#f5eb27"/>
<rect x="110" y="44.061" width="9" height="2.447" fill="#f5e926"/>
<rect x="110" y="46.508" width="9" height="2.448" fill="#f3ee27"/>
<rect x="110" y="48.956" width="9" height="4.896" fill="#f4ed27"/>
<rect x="110" y="53.852" width="9" height="2.448" fill="#f3f027"/>
<rect x="110" y="56.3" width="9" height="7.343" fill="#f3ee27"/>
<rect x="110" y="63.643" width="9" height="4.896" fill="#f3f027"/>
<rect x="110" y="68.539" width="9" height="2.448" fill="#f2f227"/>
<rect x="110" y="70.987" width="9" height="9.791" fill="#f3f027"/>
<rect x="110" y="80.778" width="9" height="2.448" fill="#f2f227"/>
<rect x="110" y="83.226" width="9" height="2.447" fill="#f3f027"/>
<rect x="110" y="85.673" width="9" height="2.448" fill="#f8df25"/>
<rect x="110" y="88.121" width="9" height="2.448" fill="#f3f027"/>
<rect x="110" y="90.569" width="9" height="3.182" fill="#f1f426"/>
<rect x="110" y="93.751" width="9" height="5.141" fill="#f2f227"/>
<rect x="110" y="98.892" width="9" height="60.216" fill="#f1f426"/>
<rect x="110" y="159.108" width="9" height="12.239" fill="#f2f227"/>
<rect x="110" y="171.347" width="9" height="73.434" fill="#f1f525"/>
<rect x="110" y="244.781" width="9" height="148.219" fill="#f0f724"/>
<rect x="119" y="1.713" width="10" height="0.857" fill="#f2f227"/>
<rect x="119" y="2.57" width="10" height="1.102" fill="#f1f426"/>
<rect x="119" y="3.672" width="10" height="1.224" fill="#f2f227"/>
<rect x="119" y="4.896" width="10" height="1.224" fill="#f3f027"/>
<rect x="119" y="6.12" width="10" height="1.223" fill="#f1f426"/>
<rect x="119" y="7.343" width="10" height="3.672" fill="#f2f227"/>
<rect x="119" y="11.015" width="10" height="2.448" fill="#f3f027"/>
<rect x="119" y="13.463" width="10" height="2.448" fill="#f2f227"/>
<rect x="119" y="15.911" width="10" height="1.224" fill="#f1f426"/>
<rect x="119" y="17.135" width="10" height="1.224" fill="#f2f227"/>
<rect x="119" y="18.359" width="10" height="2.447" fill="#f3f027"/>
<rect x="119" y="20.806" width="10" height="2.448" fill="#f2f227"/>
<rect x="119" y="23.254" width="10" height="1.224" fill="#f3f027"/>
<rect x="119" y="24.478" width="10" height="2.448" fill="#f1f426"/>
<rect x="119" y="26.926" width="10" height="4.896" fill="#f2f227"/>
<rect x="119" y="31.822" width="10" height="2.447" fill="#f8df25"/>
<rect x="119" y="34.269" width="10" height="7.344" fill="#f2f227"/>
<rect x="119" y="41.613" width="10" height="4.895" fill="#f3f027"/>
<rect x="119" y="46.508" width="10" height="2.448" fill="#f3ee27"/>
<rect x="119" y="48.956" width="10" height="2.448" fill="#f3f027"/>
<rect x="119" y="51.404" width="10" height="2.448" fill="#fbd324"/>
<rect x="119" y="53.852" width="10" height="2.448" fill="#f3f027"/>
<rect x="119" y="56.3" width="10" height="2.447" fill="#f3ee27"/>
<rect x="119" y="58.747" width="10" height="2.448" fill="#f3f027"/>
<rect x="119" y="61.195" width="10" height="2.448" fill="#f1f426"/>
<rect x="119" y="63.643" width="10" height="2.448" fill="#f3f027"/>
<rect x="119" y="66.091" width="10" height="12.239" fill="#f2f227"/>
<rect x="119" y="78.33" width="10" height="2.448" fill="#f1f426"/>
<rect x="119" y="80.778" width="10" height="9.791" fill="#f2f227"/>
<rect x="119" y="90.569" width="10" height="3.182" fill="#f1f426"/>
<rect x="119" y="93.751" width="10" height="1.714" fill="#f2f227"/>
<rect x="119" y="95.465" width="10" height="3.427" fill="#f1f426"/>
<rect x="119" y="98.892" width="10" height="11.260" fill="#f6e826"/>
<rect x="119" y="110.152" width="10" height="134.629" fill="#f1f525"/>
<rect x="119" y="244.781" width="10" height="148.219" fill="#f0f724"/>
<rect x="129" y="1.713" width="9" height="0.857" fill="#f1f426"/>
<rect x="129" y="2.57" width="9" height="1.102" fill="#f1f525"/>
<rect x="129" y="3.672" width="9" height="2.448" fill="#f1f426"/>
<rect x="129" y="6.12" width="9" height="1.223" fill="#f1f525"/>
<rect x="129" y="7.343" width="9" height="0.735" fill="#f1f426"/>
<rect x="129" y="8.078" width="9" height="1.713" fill="#f1f525"/>
<rect x="129" y="9.791" width="9" height="1.224" fill="#f1f426"/>
<rect x="129" y="11.015" width="9" height="1.224" fill="#f1f525"/>
<rect x="129" y="12.239" width="9" height="1.224" fill="#f1f426"/>
<rect x="129" y="13.463" width="9" height="1.224" fill="#f2f227"/>
<rect x="129" y="14.687" width="9" height="3.672" fill="#f1f426"/>
<rect x="129" y="18.359" width="9" height="1.223" fill="#f2f227"/>
<rect x="129" y="19.582" width="9" height="4.896" fill="#f1f426"/>
<rect x="129" y="24.478" width="9" height="2.448" fill="#f1f525"/>
<rect x="129" y="26.926" width="9" height="2.448" fill="#f2f227"/>
<rect x="129" y="29.374" width="9" height="4.895" fill="#f1f426"/>
<rect x="129" y="34.269" width="9" height="2.448" fill="#f2f227"/>
<rect x="129" y="36.717" width="9" height="4.896" fill="#f1f426"/>
<rect x="129" y="41.613" width="9" height="4.895" fill="#f3f027"/>
<rect x="129" y="46.508" width="9" height="2.448" fill="#f5eb27"/>
<rect x="129" y="48.956" width="9" height="2.448" fill="#f3f027"/>
<rect x="129" y="51.404" width="9" height="2.448" fill="#f3ee27"/>
<rect x="129" y="53.852" width="9" height="2.448" fill="#f3f027"/>
<rect x="129" y="56.3" width="9" height="4.895" fill="#f2f227"/>
<rect x="129" y="61.195" width="9" height="4.896" fill="#f3f027"/>
<rect x="129" y="66.091" width="9" height="7.343" fill="#f2f227"/>
<rect x="129" y="73.434" width="9" height="2.448" fill="#f1f426"/>
<rect x="129" y="75.882" width="9" height="2.448" fill="#f3f027"/>
<rect x="129" y="78.33" width="9" height="4.896" fill="#f1f426"/>
<rect x="129" y="83.226" width="9" height="2.447" fill="#f2f227"/>
<rect x="129" y="85.673" width="9" height="4.896" fill="#f1f426"/>
<rect x="129" y="90.569" width="9" height="3.182" fill="#f1f525"/>
<rect x="129" y="93.751" width="9" height="1.714" fill="#f2f227"/>
<rect x="129" y="95.465" width="9" height="3.427" fill="#f1f426"/>
<rect x="129" y="98.892" width="9" height="145.889" fill="#f1f525"/>
<rect x="129" y="244.781" width="9" height="148.219" fill="#f0f724"/>
<rect x="138" y="1.713" width="8" height="1.959" fill="#f1f426"/>
<rect x="138" y="3.672" width="8" height="2.448" fill="#f2f227"/>
<rect x="138" y="6.12" width="8" height="1.958" fill="#f1f426"/>
<rect x="138" y="8.078" width="8" height="2.937" fill="#f2f227"/>
<rect x="138" y="11.015" width="8" height="3.672" fill="#f1f426"/>
<rect x="138" y="14.687" width="8" height="1.224" fill="#f1f525"/>
<rect x="138" y="15.911" width="8" height="1.224" fill="#f1f426"/>
<rect x="138" y="17.135" width="8" height="1.224" fill="#f2f227"/>
<rect x="138" y="18.359" width="8" height="1.223" fill="#f1f525"/>
<rect x="138" y="19.582" width="8" height="1.224" fill="#f2f227"/>
<rect x="138" y="20.806" width="8" height="1.224" fill="#f1f525"/>
<rect x="138" y="22.03" width="8" height="2.448" fill="#f2f227"/>
<rect x="138" y="24.478" width="8" height="12.239" fill="#f1f426"/>
<rect x="138" y="36.717" width="8" height="2.448" fill="#f2f227"/>
<rect x="138" y="39.165" width="8" height="2.448" fill="#f1f426"/>
<rect x="138" y="41.613" width="8" height="2.448" fill="#f2f227"/>
<rect x="138" y="44.061" width="8" height="2.447" fill="#f3ee27"/>
<rect x="138" y="46.508" width="8" height="7.344" fill="#f3f027"/>
<rect x="138" y="53.852" width="8" height="4.895" fill="#f2f227"/>
<rect x="138" y="58.747" width="8" height="2.448" fill="#f3f027"/>
<rect x="138" y="61.195" width="8" height="2.448" fill="#f2f227"/>
<rect x="138" y="63.643" width="8" height="2.448" fill="#f3f027"/>
<rect x="138" y="66.091" width="8" height="2.448" fill="#f3ee27"/>
<rect x="138" y="68.539" width="8" height="7.343" fill="#f2f227"/>
<rect x="138" y="75.882" width="8" height="4.896" fill="#f1f426"/>
<rect x="138" y="80.778" width="8" height="2.448" fill="#f3f027"/>
<rect x="138" y="83.226" width="8" height="2.447" fill="#f1f426"/>
<rect x="138" y="85.673" width="8" height="2.448" fill="#f2f227"/>
<rect x="138" y="88.121" width="8" height="2.448" fill="#f3f027"/>
<rect x="138" y="90.569" width="8" height="4.896" fill="#f1f426"/>
<rect x="138" y="95.465" width="8" height="3.427" fill="#f2f227"/>
<rect x="138" y="98.892" width="8" height="145.889" fill="#f1f525"/>
<rect x="138" y="244.781" width="8" height="148.219" fill="#f0f724"/>
<rect x="146" y="1.713" width="9" height="0.857" fill="#f1f525"/>
<rect x="146" y="2.57" width="9" height="1.102" fill="#f1f426"/>
<rect x="146" y="3.672" width="9" height="7.343" fill="#f1f525"/>
<rect x="146" y="11.015" width="9" height="2.448" fill="#f1f426"/>
<rect x="146" y="13.463" width="9" height="3.672" fill="#f1f525"/>
<rect x="146" y="17.135" width="9" height="1.224" fill="#f0f724"/>
<rect x="146" y="18.359" width="9" height="20.806" fill="#f1f525"/>
<rect x="146" y="39.165" width="9" height="2.448" fill="#f1f426"/>
<rect x="146" y="41.613" width="9" height="2.448" fill="#f3ee27"/>
<rect x="146" y="44.061" width="9" height="2.447" fill="#f3f027"/>
<rect x="146" y="46.508" width="9" height="2.448" fill="#f3ee27"/>
<rect x="146" y="48.956" width="9" height="9.791" fill="#f3f027"/>
<rect x="146" y="58.747" width="9" height="2.448" fill="#f2f227"/>
<rect x="146" y="61.195" width="9" height="2.448" fill="#f3f027"/>
<rect x="146" y="63.643" width="9" height="2.448" fill="#f1f426"/>
<rect x="146" y="66.091" width="9" height="4.896" fill="#f2f227"/>
<rect x="146" y="70.987" width="9" height="2.447" fill="#f1f426"/>
<rect x="146" y="73.434" width="9" height="2.448" fill="#f2f227"/>
<rect x="146" y="75.882" width="9" height="2.448" fill="#f3f027"/>
<rect x="146" y="78.33" width="9" height="2.448" fill="#f2f227"/>
<rect x="146" y="80.778" width="9" height="2.448" fill="#f1f426"/>
<rect x="146" y="83.226" width="9" height="2.447" fill="#f3f027"/>
<rect x="146" y="85.673" width="9" height="2.448" fill="#f1f426"/>
<rect x="146" y="88.121" width="9" height="10.771" fill="#f2f227"/>
<rect x="146" y="98.892" width="9" height="84.694" fill="#f1f525"/>
<rect x="146" y="183.586" width="9" height="12.973" fill="#f5eb27"/>
<rect x="146" y="196.559" width="9" height="48.222" fill="#f1f525"/>
<rect x="146" y="244.781" width="9" height="24.478" fill="#f6e826"/>
<rect x="146" y="269.259" width="9" height="123.741" fill="#f0f724"/>
<rect x="155" y="1.713" width="10" height="10.526" fill="#f1f525"/>
<rect x="155" y="12.239" width="10" height="2.448" fill="#f1f426"/>
<rect x="155" y="14.687" width="10" height="9.791" fill="#f1f525"/>
<rect x="155" y="24.478" width="10" height="2.448" fill="#f1f426"/>
<rect x="155" y="26.926" width="10" height="14.687" fill="#f1f525"/>
<rect x="155" y="41.613" width="10" height="2.448" fill="#f2f227"/>
<rect x="155" y="44.061" width="10" height="2.447" fill="#f3f027"/>
<rect x="155" y="46.508" width="10" height="2.448" fill="#f3ee27"/>
<rect x="155" y="48.956" width="10" height="2.448" fill="#f2f227"/>
<rect x="155" y="51.404" width="10" height="4.896" fill="#f3f027"/>
<rect x="155" y="56.3" width="10" height="22.030" fill="#f2f227"/>
<rect x="155" y="78.33" width="10" height="2.448" fill="#f3f027"/>
<rect x="155" y="80.778" width="10" height="4.895" fill="#f2f227"/>
<rect x="155" y="85.673" width="10" height="2.448" fill="#f1f426"/>
<rect x="155" y="88.121" width="10" height="7.344" fill="#f2f227"/>
<rect x="155" y="95.465" width="10" height="3.427" fill="#f1f426"/>
<rect x="155" y="98.892" width="10" height="145.889" fill="#f1f525"/>
<rect x="155" y="244.781" width="10" height="148.219" fill="#f0f724"/>
<rect x="165" y="1.713" width="9" height="0.857" fill="#f3f027"/>
<rect x="165" y="2.57" width="9" height="1.102" fill="#f2f227"/>
<rect x="165" y="3.672" width="9" height="2.448" fill="#f3f027"/>
<rect x="165" y="6.12" width="9" height="1.223" fill="#f2f227"/>
<rect x="165" y="7.343" width="9" height="0.735" fill="#f3f027"/>
<rect x="165" y="8.078" width="9" height="1.713" fill="#f2f227"/>
<rect x="165" y="9.791" width="9" height="1.224" fill="#f3f027"/>
<rect x="165" y="11.015" width="9" height="2.448" fill="#f2f227"/>
<rect x="165" y="13.463" width="9" height="1.224" fill="#f3f027"/>
<rect x="165" y="14.687" width="9" height="2.448" fill="#f2f227"/>
<rect x="165" y="17.135" width="9" height="1.224" fill="#f1f426"/>
<rect x="165" y="18.359" width="9" height="1.223" fill="#f2f227"/>
<rect x="165" y="19.582" width="9" height="7.344" fill="#f3f027"/>
<rect x="165" y="26.926" width="9" height="2.448" fill="#f2f227"/>
<rect x="165" y="29.374" width="9" height="2.448" fill="#f1f426"/>
<rect x="165" y="31.822" width="9" height="2.447" fill="#f2f227"/>
<rect x="165" y="34.269" width="9" height="2.448" fill="#f1f426"/>
<rect x="165" y="36.717" width="9" height="2.448" fill="#f3f027"/>
<rect x="165" y="39.165" width="9" height="2.448" fill="#f2f227"/>
<rect x="165" y="41.613" width="9" height="4.895" fill="#f3f027"/>
<rect x="165" y="46.508" width="9" height="2.448" fill="#f2f227"/>
<rect x="165" y="48.956" width="9" height="2.448" fill="#f3f027"/>
<rect x="165" y="51.404" width="9" height="2.448" fill="#f1f426"/>
<rect x="165" y="53.852" width="9" height="2.448" fill="#f3f027"/>
<rect x="165" y="56.3" width="9" height="7.343" fill="#f2f227"/>
<rect x="165" y="63.643" width="9" height="2.448" fill="#f6e826"/>
<rect x="165" y="66.091" width="9" height="2.448" fill="#f1f426"/>
<rect x="165" y="68.539" width="9" height="9.791" fill="#f2f227"/>
<rect x="165" y="78.33" width="9" height="7.343" fill="#f1f426"/>
<rect x="165" y="85.673" width="9" height="2.448" fill="#f2f227"/>
<rect x="165" y="88.121" width="9" height="5.630" fill="#f1f426"/>
<rect x="165" y="93.751" width="9" height="1.714" fill="#f2f227"/>
<rect x="165" y="95.465" width="9" height="3.427" fill="#f1f426"/>
<rect x="165" y="98.892" width="9" height="145.889" fill="#f1f525"/>
<rect x="165" y="244.781" width="9" height="24.478" fill="#f3ee27"/>
<rect x="165" y="269.259" width="9" height="48.957" fill="#f0f724"/>
<rect x="165" y="318.216" width="9" height="24.478" fill="#f5eb27"/>
<rect x="165" y="342.694" width="9" height="50.306" fill="#f0f724"/>
<rect x="174" y="1.713" width="9" height="0.857" fill="#f5eb27"/>
<rect x="174" y="2.57" width="9" height="1.102" fill="#f8e125"/>
<rect x="174" y="3.672" width="9" height="1.224" fill="#f7e425"/>
<rect x="174" y="4.896" width="9" height="1.224" fill="#f7e225"/>
<rect x="174" y="6.12" width="9" height="1.958" fill="#f5e926"/>
<rect x="174" y="8.078" width="9" height="1.713" fill="#f7e425"/>
<rect x="174" y="9.791" width="9" height="1.224" fill="#f7e225"/>
<rect x="174" y="11.015" width="9" height="1.224" fill="#f6e626"/>
<rect x="174" y="12.239" width="9" height="1.224" fill="#f8e125"/>
<rect x="174" y="13.463" width="9" height="1.224" fill="#f6e826"/>
<rect x="174" y="14.687" width="9" height="2.448" fill="#f7e425"/>
<rect x="174" y="17.135" width="9" height="1.224" fill="#f6e626"/>
<rect x="174" y="18.359" width="9" height="3.671" fill="#f6e826"/>
<rect x="174" y="22.03" width="9" height="1.224" fill="#f6e626"/>
<rect x="174" y="23.254" width="9" height="1.224" fill="#f7e225"/>
<rect x="174" y="24.478" width="9" height="2.448" fill="#f6e826"/>
<rect x="174" y="26.926" width="9" height="2.448" fill="#f7e225"/>
<rect x="174" y="29.374" width="9" height="2.448" fill="#f5e926"/>
<rect x="174" y="31.822" width="9" height="4.895" fill="#f4ed27"/>
<rect x="174" y="36.717" width="9" height="2.448" fill="#f3ee27"/>
<rect x="174" y="39.165" width="9" height="4.896" fill="#f3f027"/>
<rect x="174" y="44.061" width="9" height="4.895" fill="#f2f227"/>
<rect x="174" y="48.956" width="9" height="7.344" fill="#f3f027"/>
<rect x="174" y="56.3" width="9" height="7.343" fill="#f2f227"/>
<rect x="174" y="63.643" width="9" height="4.896" fill="#f3f027"/>
<rect x="174" y="68.539" width="9" height="26.926" fill="#f2f227"/>
<rect x="174" y="95.465" width="9" height="3.427" fill="#f1f426"/>
<rect x="174" y="98.892" width="9" height="145.889" fill="#f1f525"/>
<rect x="174" y="244.781" width="9" height="148.219" fill="#f0f724"/>
<rect x="183" y="1.713" width="9" height="0.857" fill="#fdc627"/>
<rect x="183" y="2.57" width="9" height="3.550" fill="#fdca26"/>
<rect x="183" y="6.12" width="9" height="1.223" fill="#fcd025"/>
<rect x="183" y="7.343" width="9" height="0.735" fill="#fcd225"/>
<rect x="183" y="8.078" width="9" height="1.713" fill="#fcce25"/>
<rect x="183" y="9.791" width="9" height="1.224" fill="#fcd225"/>
<rect x="183" y="11.015" width="9" height="2.448" fill="#fbd324"/>
<rect x="183" y="13.463" width="9" height="1.224" fill="#fcd225"/>
<rect x="183" y="14.687" width="9" height="1.224" fill="#fdca26"/>
<rect x="183" y="15.911" width="9" height="2.448" fill="#fbd524"/>
<rect x="183" y="18.359" width="9" height="2.447" fill="#fbd324"/>
<rect x="183" y="20.806" width="9" height="1.224" fill="#fbd724"/>
<rect x="183" y="22.03" width="9" height="1.224" fill="#fcce25"/>
<rect x="183" y="23.254" width="9" height="1.224" fill="#f4ed27"/>
<rect x="183" y="24.478" width="9" height="2.448" fill="#f5e926"/>
<rect x="183" y="26.926" width="9" height="2.448" fill="#f4ed27"/>
<rect x="183" y="29.374" width="9" height="2.448" fill="#f3ee27"/>
<rect x="183" y="31.822" width="9" height="2.447" fill="#f4ed27"/>
<rect x="183" y="34.269" width="9" height="7.344" fill="#f3f027"/>
<rect x="183" y="41.613" width="9" height="2.448" fill="#f3ee27"/>
<rect x="183" y="44.061" width="9" height="2.447" fill="#f3f027"/>
<rect x="183" y="46.508" width="9" height="2.448" fill="#f2f227"/>
<rect x="183" y="48.956" width="9" height="2.448" fill="#f3f027"/>
<rect x="183" y="51.404" width="9" height="2.448" fill="#f3ee27"/>
<rect x="183" y="53.852" width="9" height="4.895" fill="#f3f027"/>
<rect x="183" y="58.747" width="9" height="2.448" fill="#f2f227"/>
<rect x="183" y="61.195" width="9" height="2.448" fill="#f3f027"/>
<rect x="183" y="63.643" width="9" height="2.448" fill="#f2f227"/>
<rect x="183" y="66.091" width="9" height="2.448" fill="#f3f027"/>
<rect x="183" y="68.539" width="9" height="2.448" fill="#f2f227"/>
<rect x="183" y="70.987" width="9" height="2.447" fill="#f3f027"/>
<rect x="183" y="73.434" width="9" height="4.896" fill="#f2f227"/>
<rect x="183" y="78.33" width="9" height="2.448" fill="#f1f426"/>
<rect x="183" y="80.778" width="9" height="4.895" fill="#f2f227"/>
<rect x="183" y="85.673" width="9" height="4.896" fill="#f1f426"/>
<rect x="183" y="90.569" width="9" height="3.182" fill="#f3f027"/>
<rect x="183" y="93.751" width="9" height="5.141" fill="#f2f227"/>
<rect x="183" y="98.892" width="9" height="145.889" fill="#f1f525"/>
<rect x="183" y="244.781" width="9" height="148.219" fill="#f0f724"/>
<rect x="192" y="1.713" width="10" height="1.959" fill="#fcd025"/>
<rect x="192" y="3.672" width="10" height="1.224" fill="#fbd524"/>
<rect x="192" y="4.896" width="10" height="1.224" fill="#fad824"/>
<rect x="192" y="6.12" width="10" height="1.223" fill="#fbd324"/>
<rect x="192" y="7.343" width="10" height="2.448" fill="#fdca26"/>
<rect x="192" y="9.791" width="10" height="1.224" fill="#fbd324"/>
<rect x="192" y="11.015" width="10" height="3.672" fill="#fcce25"/>
<rect x="192" y="14.687" width="10" height="1.224" fill="#fbd324"/>
<rect x="192" y="15.911" width="10" height="1.224" fill="#fcd225"/>
<rect x="192" y="17.135" width="10" height="1.224" fill="#fbd724"/>
<rect x="192" y="18.359" width="10" height="1.223" fill="#fdca26"/>
<rect x="192" y="19.582" width="10" height="1.224" fill="#fbd324"/>
<rect x="192" y="20.806" width="10" height="1.224" fill="#fad824"/>
<rect x="192" y="22.03" width="10" height="1.224" fill="#fcce25"/>
<rect x="192" y="23.254" width="10" height="1.224" fill="#fbd524"/>
<rect x="192" y="24.478" width="10" height="7.344" fill="#f4ed27"/>
<rect x="192" y="31.822" width="10" height="2.447" fill="#f3f027"/>
<rect x="192" y="34.269" width="10" height="2.448" fill="#f4ed27"/>
<rect x="192" y="36.717" width="10" height="4.896" fill="#f3ee27"/>
<rect x="192" y="41.613" width="10" height="9.791" fill="#f3f027"/>
<rect x="192" y="51.404" width="10" height="7.343" fill="#f2f227"/>
<rect x="192" y="58.747" width="10" height="2.448" fill="#f1f426"/>
<rect x="192" y="61.195" width="10" height="4.896" fill="#f2f227"/>
<rect x="192" y="66.091" width="10" height="4.896" fill="#f3f027"/>
<rect x="192" y="70.987" width="10" height="2.447" fill="#f2f227"/>
<rect x="192" y="73.434" width="10" height="4.896" fill="#f3f027"/>
<rect x="192" y="78.33" width="10" height="4.896" fill="#f1f426"/>
<rect x="192" y="83.226" width="10" height="2.447" fill="#f2f227"/>
<rect x="192" y="85.673" width="10" height="2.448" fill="#f1f426"/>
<rect x="192" y="88.121" width="10" height="5.630" fill="#f2f227"/>
<rect x="192" y="93.751" width="10" height="1.714" fill="#f3f027"/>
<rect x="192" y="95.465" width="10" height="3.427" fill="#f1f426"/>
<rect x="192" y="98.892" width="10" height="145.889" fill="#f1f525"/>
<rect x="192" y="244.781" width="10" height="24.478" fill="#f0f724"/>
<rect x="192" y="269.259" width="10" height="24.478" fill="#f3f027"/>
<rect x="192" y="293.737" width="10" height="99.263" fill="#f0f724"/>
<rect x="202" y="1.713" width="9" height="0.857" fill="#fada24"/>
<rect x="202" y="2.57" width="9" height="1.102" fill="#fbd724"/>
<rect x="202" y="3.672" width="9" height="1.224" fill="#fad824"/>
<rect x="202" y="4.896" width="9" height="1.224" fill="#fbd724"/>
<rect x="202" y="6.12" width="9" height="1.223" fill="#fad824"/>
<rect x="202" y="7.343" width="9" height="0.735" fill="#fbd524"/>
<rect x="202" y="8.078" width="9" height="1.713" fill="#fada24"/>
<rect x="202" y="9.791" width="9" height="2.448" fill="#fbd724"/>
<rect x="202" y="12.239" width="9" height="1.224" fill="#fad824"/>
<rect x="202" y="13.463" width="9" height="1.224" fill="#fada24"/>
<rect x="202" y="14.687" width="9" height="1.224" fill="#fbd724"/>
<rect x="202" y="15.911" width="9" height="1.224" fill="#f8df25"/>
<rect x="202" y="17.135" width="9" height="1.224" fill="#fad824"/>
<rect x="202" y="18.359" width="9" height="1.223" fill="#fcce25"/>
<rect x="202" y="19.582" width="9" height="1.224" fill="#fad824"/>
<rect x="202" y="20.806" width="9" height="1.224" fill="#f9dd25"/>
<rect x="202" y="22.03" width="9" height="1.224" fill="#fad824"/>
<rect x="202" y="23.254" width="9" height="1.224" fill="#f9dc24"/>
<rect x="202" y="24.478" width="9" height="2.448" fill="#fbd724"/>
<rect x="202" y="26.926" width="9" height="2.448" fill="#f8df25"/>
<rect x="202" y="29.374" width="9" height="2.448" fill="#fada24"/>
<rect x="202" y="31.822" width="9" height="2.447" fill="#fbd724"/>
<rect x="202" y="34.269" width="9" height="4.896" fill="#f4ed27"/>
<rect x="202" y="39.165" width="9" height="4.896" fill="#f3f027"/>
<rect x="202" y="44.061" width="9" height="2.447" fill="#f3ee27"/>
<rect x="202" y="46.508" width="9" height="2.448" fill="#f3f027"/>
<rect x="202" y="48.956" width="9" height="2.448" fill="#f3ee27"/>
<rect x="202" y="51.404" width="9" height="9.791" fill="#f2f227"/>
<rect x="202" y="61.195" width="9" height="2.448" fill="#f1f426"/>
<rect x="202" y="63.643" width="9" height="4.896" fill="#f2f227"/>
<rect x="202" y="68.539" width="9" height="4.895" fill="#f1f426"/>
<rect x="202" y="73.434" width="9" height="4.896" fill="#f2f227"/>
<rect x="202" y="78.33" width="9" height="2.448" fill="#f3f027"/>
<rect x="202" y="80.778" width="9" height="18.114" fill="#f2f227"/>
<rect x="202" y="98.892" width="9" height="47.977" fill="#f1f525"/>
<rect x="202" y="146.869" width="9" height="24.478" fill="#f5eb27"/>
<rect x="202" y="171.347" width="9" height="73.434" fill="#f1f525"/>
<rect x="202" y="244.781" width="9" height="73.435" fill="#f0f724"/>
<rect x="202" y="318.216" width="9" height="24.478" fill="#f3f027"/>
<rect x="202" y="342.694" width="9" height="50.306" fill="#f0f724"/>
<rect x="211" y="1.713" width="9" height="0.857" fill="#febe2a"/>
<rect x="211" y="2.57" width="9" height="3.550" fill="#fdc627"/>
<rect x="211" y="6.12" width="9" height="1.958" fill="#fdca26"/>
<rect x="211" y="8.078" width="9" height="2.937" fill="#fdc627"/>
<rect x="211" y="11.015" width="9" height="1.224" fill="#fdc229"/>
<rect x="211" y="12.239" width="9" height="2.448" fill="#fdca26"/>
<rect x="211" y="14.687" width="9" height="1.224" fill="#fdc627"/>
<rect x="211" y="15.911" width="9" height="1.224" fill="#fdc229"/>
<rect x="211" y="17.135" width="9" height="1.224" fill="#fdca26"/>
<rect x="211" y="18.359" width="9" height="1.223" fill="#fcd025"/>
<rect x="211" y="19.582" width="9" height="2.448" fill="#fdc627"/>
<rect x="211" y="22.03" width="9" height="1.224" fill="#fdc229"/>
<rect x="211" y="23.254" width="9" height="3.672" fill="#fdc627"/>
<rect x="211" y="26.926" width="9" height="2.448" fill="#fdca26"/>
<rect x="211" y="29.374" width="9" height="2.448" fill="#f9dc24"/>
<rect x="211" y="31.822" width="9" height="2.447" fill="#fad824"/>
<rect x="211" y="34.269" width="9" height="2.448" fill="#f3f027"/>
<rect x="211" y="36.717" width="9" height="2.448" fill="#f3ee27"/>
<rect x="211" y="39.165" width="9" height="2.448" fill="#f3f027"/>
<rect x="211" y="41.613" width="9" height="2.448" fill="#f2f227"/>
<rect x="211" y="44.061" width="9" height="2.447" fill="#f4ed27"/>
<rect x="211" y="46.508" width="9" height="2.448" fill="#f2f227"/>
<rect x="211" y="48.956" width="9" height="2.448" fill="#f3ee27"/>
<rect x="211" y="51.404" width="9" height="7.343" fill="#f3f027"/>
<rect x="211" y="58.747" width="9" height="2.448" fill="#f2f227"/>
<rect x="211" y="61.195" width="9" height="4.896" fill="#f3f027"/>
<rect x="211" y="66.091" width="9" height="2.448" fill="#f2f227"/>
<rect x="211" y="68.539" width="9" height="2.448" fill="#f3f027"/>
<rect x="211" y="70.987" width="9" height="2.447" fill="#f2f227"/>
<rect x="211" y="73.434" width="9" height="2.448" fill="#f3f027"/>
<rect x="211" y="75.882" width="9" height="4.896" fill="#f2f227"/>
<rect x="211" y="80.778" width="9" height="4.895" fill="#f1f426"/>
<rect x="211" y="85.673" width="9" height="8.078" fill="#f2f227"/>
<rect x="211" y="93.751" width="9" height="5.141" fill="#f1f426"/>
<rect x="211" y="98.892" width="9" height="145.889" fill="#f1f525"/>
<rect x="211" y="244.781" width="9" height="148.219" fill="#f0f724"/>
<rect x="220" y="1.713" width="9" height="5.630" fill="#fdc229"/>
<rect x="220" y="7.343" width="9" height="0.735" fill="#feba2c"/>
<rect x="220" y="8.078" width="9" height="1.713" fill="#febe2a"/>
<rect x="220" y="9.791" width="9" height="1.224" fill="#fdc229"/>
<rect x="220" y="11.015" width="9" height="3.672" fill="#feba2c"/>
<rect x="220" y="14.687" width="9" height="1.224" fill="#febe2a"/>
<rect x="220" y="15.911" width="9" height="2.448" fill="#feba2c"/>
<rect x="220" y="18.359" width="9" height="1.223" fill="#febe2a"/>
<rect x="220" y="19.582" width="9" height="1.224" fill="#feba2c"/>
<rect x="220" y="20.806" width="9" height="1.224" fill="#fdc229"/>
<rect x="220" y="22.03" width="9" height="1.224" fill="#febe2a"/>
<rect x="220" y="23.254" width="9" height="1.224" fill="#fdb22f"/>
<rect x="220" y="24.478" width="9" height="2.448" fill="#feb72d"/>
<rect x="220" y="26.926" width="9" height="2.448" fill="#febe2a"/>
<rect x="220" y="29.374" width="9" height="2.448" fill="#fcd225"/>
<rect x="220" y="31.822" width="9" height="2.447" fill="#fdab33"/>
<rect x="220" y="34.269" width="9" height="4.896" fill="#f3f027"/>
<rect x="220" y="39.165" width="9" height="2.448" fill="#f3ee27"/>
<rect x="220" y="41.613" width="9" height="2.448" fill="#f3f027"/>
<rect x="220" y="44.061" width="9" height="2.447" fill="#f3ee27"/>
<rect x="220" y="46.508" width="9" height="2.448" fill="#f2f227"/>
<rect x="220" y="48.956" width="9" height="4.896" fill="#f3f027"/>
<rect x="220" y="53.852" width="9" height="2.448" fill="#f3ee27"/>
<rect x="220" y="56.3" width="9" height="2.447" fill="#f3f027"/>
<rect x="220" y="58.747" width="9" height="2.448" fill="#f2f227"/>
<rect x="220" y="61.195" width="9" height="2.448" fill="#f1f426"/>
<rect x="220" y="63.643" width="9" height="2.448" fill="#f2f227"/>
<rect x="220" y="66.091" width="9" height="2.448" fill="#f3f027"/>
<rect x="220" y="68.539" width="9" height="2.448" fill="#f1f525"/>
<rect x="220" y="70.987" width="9" height="7.343" fill="#f2f227"/>
<rect x="220" y="78.33" width="9" height="4.896" fill="#f3f027"/>
<rect x="220" y="83.226" width="9" height="2.447" fill="#f1f426"/>
<rect x="220" y="85.673" width="9" height="2.448" fill="#f2f227"/>
<rect x="220" y="88.121" width="9" height="2.448" fill="#f3f027"/>
<rect x="220" y="90.569" width="9" height="3.182" fill="#f2f227"/>
<rect x="220" y="93.751" width="9" height="1.714" fill="#f1f426"/>
<rect x="220" y="95.465" width="9" height="3.427" fill="#f2f227"/>
<rect x="220" y="98.892" width="9" height="145.889" fill="#f1f525"/>
<rect x="220" y="244.781" width="9" height="148.219" fill="#f0f724"/>
<rect x="229" y="1.713" width="10" height="1.959" fill="#fdb22f"/>
<rect x="229" y="3.672" width="10" height="1.224" fill="#fca338"/>
<rect x="229" y="4.896" width="10" height="1.224" fill="#fdae32"/>
<rect x="229" y="6.12" width="10" height="1.223" fill="#fdb22f"/>
<rect x="229" y="7.343" width="10" height="0.735" fill="#fdae32"/>
<rect x="229" y="8.078" width="10" height="1.713" fill="#fdab33"/>
<rect x="229" y="9.791" width="10" height="1.224" fill="#fca338"/>
<rect x="229" y="11.015" width="10" height="1.224" fill="#feb72d"/>
<rect x="229" y="12.239" width="10" height="1.224" fill="#fdab33"/>
<rect x="229" y="13.463" width="10" height="1.224" fill="#feb72d"/>
<rect x="229" y="14.687" width="10" height="1.224" fill="#fdb22f"/>
<rect x="229" y="15.911" width="10" height="1.224" fill="#fdae32"/>
<rect x="229" y="17.135" width="10" height="1.224" fill="#fdb22f"/>
<rect x="229" y="18.359" width="10" height="1.223" fill="#fdae32"/>
<rect x="229" y="19.582" width="10" height="1.224" fill="#fdb22f"/>
<rect x="229" y="20.806" width="10" height="1.224" fill="#fca636"/>
<rect x="229" y="22.03" width="10" height="1.224" fill="#fdb22f"/>
<rect x="229" y="23.254" width="10" height="1.224" fill="#fdab33"/>
<rect x="229" y="24.478" width="10" height="2.448" fill="#feb72d"/>
<rect x="229" y="26.926" width="10" height="2.448" fill="#fdae32"/>
<rect x="229" y="29.374" width="10" height="2.448" fill="#fdca26"/>
<rect x="229" y="31.822" width="10" height="2.447" fill="#f6e626"/>
<rect x="229" y="34.269" width="10" height="2.448" fill="#f6e826"/>
<rect x="229" y="36.717" width="10" height="2.448" fill="#f4ed27"/>
<rect x="229" y="39.165" width="10" height="4.896" fill="#f5eb27"/>
<rect x="229" y="44.061" width="10" height="2.447" fill="#f4ed27"/>
<rect x="229" y="46.508" width="10" height="2.448" fill="#f8df25"/>
<rect x="229" y="48.956" width="10" height="4.896" fill="#f3ee27"/>
<rect x="229" y="53.852" width="10" height="2.448" fill="#f5eb27"/>
<rect x="229" y="56.3" width="10" height="2.447" fill="#f2f227"/>
<rect x="229" y="58.747" width="10" height="4.896" fill="#f3f027"/>
<rect x="229" y="63.643" width="10" height="2.448" fill="#f4ed27"/>
<rect x="229" y="66.091" width="10" height="12.239" fill="#f3f027"/>
<rect x="229" y="78.33" width="10" height="2.448" fill="#f3ee27"/>
<rect x="229" y="80.778" width="10" height="12.973" fill="#f3f027"/>
<rect x="229" y="93.751" width="10" height="5.141" fill="#f2f227"/>
<rect x="229" y="98.892" width="10" height="23.499" fill="#f1f525"/>
<rect x="229" y="122.391" width="10" height="12.239" fill="#fada24"/>
<rect x="229" y="134.63" width="10" height="110.151" fill="#f1f525"/>
<rect x="229" y="244.781" width="10" height="148.219" fill="#f0f724"/>
<rect x="239" y="1.713" width="9" height="0.857" fill="#fdab33"/>
<rect x="239" y="2.57" width="9" height="1.102" fill="#fca636"/>
<rect x="239" y="3.672" width="9" height="1.224" fill="#fca338"/>
<rect x="239" y="4.896" width="9" height="1.224" fill="#fb9f3a"/>
<rect x="239" y="6.12" width="9" height="1.223" fill="#fdab33"/>
<rect x="239" y="7.343" width="9" height="2.448" fill="#fca636"/>
<rect x="239" y="9.791" width="9" height="1.224" fill="#fdab33"/>
<rect x="239" y="11.015" width="9" height="1.224" fill="#fca636"/>
<rect x="239" y="12.239" width="9" height="1.224" fill="#fb9f3a"/>
<rect x="239" y="13.463" width="9" height="2.448" fill="#fa9c3c"/>
<rect x="239" y="15.911" width="9" height="1.224" fill="#f89441"/>
<rect x="239" y="17.135" width="9" height="1.224" fill="#fb9f3a"/>
<rect x="239" y="18.359" width="9" height="1.223" fill="#f2844b"/>
<rect x="239" y="19.582" width="9" height="1.224" fill="#fa9c3c"/>
<rect x="239" y="20.806" width="9" height="1.224" fill="#f79143"/>
<rect x="239" y="22.03" width="9" height="1.224" fill="#fdae32"/>
<rect x="239" y="23.254" width="9" height="1.224" fill="#fca338"/>
<rect x="239" y="24.478" width="9" height="4.896" fill="#fca636"/>
<rect x="239" y="29.374" width="9" height="2.448" fill="#fcd025"/>
<rect x="239" y="31.822" width="9" height="2.447" fill="#fdca26"/>
<rect x="239" y="34.269" width="9" height="4.896" fill="#f5e926"/>
<rect x="239" y="39.165" width="9" height="7.343" fill="#f5eb27"/>
<rect x="239" y="46.508" width="9" height="2.448" fill="#f4ed27"/>
<rect x="239" y="48.956" width="9" height="2.448" fill="#f3ee27"/>
<rect x="239" y="51.404" width="9" height="4.896" fill="#f5eb27"/>
<rect x="239" y="56.3" width="9" height="2.447" fill="#f4ed27"/>
<rect x="239" y="58.747" width="9" height="4.896" fill="#f3f027"/>
<rect x="239" y="63.643" width="9" height="4.896" fill="#f3ee27"/>
<rect x="239" y="68.539" width="9" height="2.448" fill="#f2f227"/>
<rect x="239" y="70.987" width="9" height="2.447" fill="#f3f027"/>
<rect x="239" y="73.434" width="9" height="2.448" fill="#f4ed27"/>
<rect x="239" y="75.882" width="9" height="2.448" fill="#f3ee27"/>
<rect x="239" y="78.33" width="9" height="2.448" fill="#f2f227"/>
<rect x="239" y="80.778" width="9" height="2.448" fill="#fdc627"/>
<rect x="239" y="83.226" width="9" height="4.895" fill="#f2f227"/>
<rect x="239" y="88.121" width="9" height="2.448" fill="#f3f027"/>
<rect x="239" y="90.569" width="9" height="3.182" fill="#f2f227"/>
<rect x="239" y="93.751" width="9" height="5.141" fill="#f1f426"/>
<rect x="239" y="98.892" width="9" height="145.889" fill="#f1f525"/>
<rect x="239" y="244.781" width="9" height="73.435" fill="#f0f724"/>
<rect x="239" y="318.216" width="9" height="24.478" fill="#f1f426"/>
<rect x="239" y="342.694" width="9" height="50.306" fill="#f0f724"/>
<rect x="248" y="1.713" width="9" height="0.857" fill="#fdae32"/>
<rect x="248" y="2.57" width="9" height="1.102" fill="#fb9f3a"/>
<rect x="248" y="3.672" width="9" height="1.224" fill="#fa9c3c"/>
<rect x="248" y="4.896" width="9" height="1.224" fill="#fca338"/>
<rect x="248" y="6.12" width="9" height="1.223" fill="#fdab33"/>
<rect x="248" y="7.343" width="9" height="0.735" fill="#fb9f3a"/>
<rect x="248" y="8.078" width="9" height="1.713" fill="#fca338"/>
<rect x="248" y="9.791" width="9" height="2.448" fill="#fa9c3c"/>
<rect x="248" y="12.239" width="9" height="1.224" fill="#fb9f3a"/>
<rect x="248" y="13.463" width="9" height="1.224" fill="#fdab33"/>
<rect x="248" y="14.687" width="9" height="1.224" fill="#fca338"/>
<rect x="248" y="15.911" width="9" height="1.224" fill="#fa9c3c"/>
<rect x="248" y="17.135" width="9" height="2.447" fill="#fca338"/>
<rect x="248" y="19.582" width="9" height="1.224" fill="#fa9c3c"/>
<rect x="248" y="20.806" width="9" height="1.224" fill="#fca338"/>
<rect x="248" y="22.03" width="9" height="1.224" fill="#fca636"/>
<rect x="248" y="23.254" width="9" height="1.224" fill="#fb9f3a"/>
<rect x="248" y="24.478" width="9" height="2.448" fill="#fca338"/>
<rect x="248" y="26.926" width="9" height="2.448" fill="#fb9f3a"/>
<rect x="248" y="29.374" width="9" height="2.448" fill="#fdc229"/>
<rect x="248" y="31.822" width="9" height="2.447" fill="#f6e626"/>
<rect x="248" y="34.269" width="9" height="2.448" fill="#f5e926"/>
<rect x="248" y="36.717" width="9" height="2.448" fill="#f5eb27"/>
<rect x="248" y="39.165" width="9" height="2.448" fill="#f3ee27"/>
<rect x="248" y="41.613" width="9" height="4.895" fill="#f5eb27"/>
<rect x="248" y="46.508" width="9" height="2.448" fill="#f4ed27"/>
<rect x="248" y="48.956" width="9" height="2.448" fill="#f3ee27"/>
<rect x="248" y="51.404" width="9" height="2.448" fill="#f4ed27"/>
<rect x="248" y="53.852" width="9" height="2.448" fill="#f5eb27"/>
<rect x="248" y="56.3" width="9" height="2.447" fill="#f4ed27"/>
<rect x="248" y="58.747" width="9" height="2.448" fill="#f3f027"/>
<rect x="248" y="61.195" width="9" height="2.448" fill="#f2f227"/>
<rect x="248" y="63.643" width="9" height="2.448" fill="#f3ee27"/>
<rect x="248" y="66.091" width="9" height="2.448" fill="#f3f027"/>
<rect x="248" y="68.539" width="9" height="2.448" fill="#f3ee27"/>
<rect x="248" y="70.987" width="9" height="2.447" fill="#fcce25"/>
<rect x="248" y="73.434" width="9" height="2.448" fill="#f3f027"/>
<rect x="248" y="75.882" width="9" height="7.344" fill="#f2f227"/>
<rect x="248" y="83.226" width="9" height="2.447" fill="#fdb22f"/>
<rect x="248" y="85.673" width="9" height="4.896" fill="#f3f027"/>
<rect x="248" y="90.569" width="9" height="3.182" fill="#f2f227"/>
<rect x="248" y="93.751" width="9" height="5.141" fill="#f3f027"/>
<rect x="248" y="98.892" width="9" height="145.889" fill="#f1f525"/>
<rect x="248" y="244.781" width="9" height="148.219" fill="#f0f724"/>
<rect x="257" y="1.713" width="8" height="0.857" fill="#f9983e"/>
<rect x="257" y="2.57" width="8" height="1.102" fill="#f89441"/>
<rect x="257" y="3.672" width="8" height="1.224" fill="#f9983e"/>
<rect x="257" y="4.896" width="8" height="1.224" fill="#fca338"/>
<rect x="257" y="6.12" width="8" height="1.223" fill="#fb9f3a"/>
<rect x="257" y="7.343" width="8" height="0.735" fill="#f89441"/>
<rect x="257" y="8.078" width="8" height="1.713" fill="#fa9c3c"/>
<rect x="257" y="9.791" width="8" height="1.224" fill="#fca338"/>
<rect x="257" y="11.015" width="8" height="1.224" fill="#fb9f3a"/>
<rect x="257" y="12.239" width="8" height="1.224" fill="#f89441"/>
<rect x="257" y="13.463" width="8" height="1.224" fill="#fb9f3a"/>
<rect x="257" y="14.687" width="8" height="1.224" fill="#fdab33"/>
<rect x="257" y="15.911" width="8" height="1.224" fill="#fa9c3c"/>
<rect x="257" y="17.135" width="8" height="1.224" fill="#f9983e"/>
<rect x="257" y="18.359" width="8" height="1.223" fill="#fca636"/>
<rect x="257" y="19.582" width="8" height="1.224" fill="#fb9f3a"/>
<rect x="257" y="20.806" width="8" height="1.224" fill="#fa9c3c"/>
<rect x="257" y="22.03" width="8" height="1.224" fill="#f9983e"/>
<rect x="257" y="23.254" width="8" height="1.224" fill="#fb9f3a"/>
<rect x="257" y="24.478" width="8" height="2.448" fill="#f79143"/>
<rect x="257" y="26.926" width="8" height="2.448" fill="#fa9c3c"/>
<rect x="257" y="29.374" width="8" height="2.448" fill="#fb9f3a"/>
<rect x="257" y="31.822" width="8" height="2.447" fill="#fca338"/>
<rect x="257" y="34.269" width="8" height="2.448" fill="#fdab33"/>
<rect x="257" y="36.717" width="8" height="2.448" fill="#fcce25"/>
<rect x="257" y="39.165" width="8" height="2.448" fill="#f5e926"/>
<rect x="257" y="41.613" width="8" height="2.448" fill="#f4ed27"/>
<rect x="257" y="44.061" width="8" height="4.895" fill="#f5e926"/>
<rect x="257" y="48.956" width="8" height="4.896" fill="#f4ed27"/>
<rect x="257" y="53.852" width="8" height="4.895" fill="#f3f027"/>
<rect x="257" y="58.747" width="8" height="2.448" fill="#f4ed27"/>
<rect x="257" y="61.195" width="8" height="2.448" fill="#f3f027"/>
<rect x="257" y="63.643" width="8" height="2.448" fill="#f3ee27"/>
<rect x="257" y="66.091" width="8" height="2.448" fill="#f4ed27"/>
<rect x="257" y="68.539" width="8" height="2.448" fill="#f2f227"/>
<rect x="257" y="70.987" width="8" height="2.447" fill="#fada24"/>
<rect x="257" y="73.434" width="8" height="2.448" fill="#f2f227"/>
<rect x="257" y="75.882" width="8" height="2.448" fill="#f3f027"/>
<rect x="257" y="78.33" width="8" height="2.448" fill="#f4ed27"/>
<rect x="257" y="80.778" width="8" height="2.448" fill="#f3ee27"/>
<rect x="257" y="83.226" width="8" height="2.447" fill="#f3f027"/>
<rect x="257" y="85.673" width="8" height="2.448" fill="#f2f227"/>
<rect x="257" y="88.121" width="8" height="2.448" fill="#f3ee27"/>
<rect x="257" y="90.569" width="8" height="3.182" fill="#f3f027"/>
<rect x="257" y="93.751" width="8" height="1.714" fill="#f2f227"/>
<rect x="257" y="95.465" width="8" height="3.427" fill="#f3f027"/>
<rect x="257" y="98.892" width="8" height="145.889" fill="#f1f525"/>
<rect x="257" y="244.781" width="8" height="148.219" fill="#f0f724"/>
<rect x="265" y="1.713" width="10" height="1.959" fill="#f79143"/>
<rect x="265" y="3.672" width="10" height="2.448" fill="#f58b47"/>
<rect x="265" y="6.12" width="10" height="1.958" fill="#ea7457"/>
<rect x="265" y="8.078" width="10" height="1.713" fill="#ee7b51"/>
<rect x="265" y="9.791" width="10" height="1.224" fill="#ea7457"/>
<rect x="265" y="11.015" width="10" height="2.448" fill="#ee7b51"/>
<rect x="265" y="13.463" width="10" height="1.224" fill="#f58b47"/>
<rect x="265" y="14.687" width="10" height="1.224" fill="#e56b5d"/>
<rect x="265" y="15.911" width="10" height="1.224" fill="#e16462"/>
<rect x="265" y="17.135" width="10" height="1.224" fill="#e56b5d"/>
<rect x="265" y="18.359" width="10" height="1.223" fill="#f58b47"/>
<rect x="265" y="19.582" width="10" height="1.224" fill="#e56b5d"/>
<rect x="265" y="20.806" width="10" height="1.224" fill="#e16462"/>
<rect x="265" y="22.03" width="10" height="2.448" fill="#ee7b51"/>
<rect x="265" y="24.478" width="10" height="2.448" fill="#e16462"/>
<rect x="265" y="26.926" width="10" height="2.448" fill="#f2844b"/>
<rect x="265" y="29.374" width="10" height="2.448" fill="#febe2a"/>
<rect x="265" y="31.822" width="10" height="2.447" fill="#fbd324"/>
<rect x="265" y="34.269" width="10" height="2.448" fill="#fdca26"/>
<rect x="265" y="36.717" width="10" height="2.448" fill="#f5e926"/>
<rect x="265" y="39.165" width="10" height="4.896" fill="#f5eb27"/>
<rect x="265" y="44.061" width="10" height="4.895" fill="#f3ee27"/>
<rect x="265" y="48.956" width="10" height="2.448" fill="#f4ed27"/>
<rect x="265" y="51.404" width="10" height="4.896" fill="#f3ee27"/>
<rect x="265" y="56.3" width="10" height="7.343" fill="#f3f027"/>
<rect x="265" y="63.643" width="10" height="4.896" fill="#f3ee27"/>
<rect x="265" y="68.539" width="10" height="2.448" fill="#f4ed27"/>
<rect x="265" y="70.987" width="10" height="2.447" fill="#f3f027"/>
<rect x="265" y="73.434" width="10" height="4.896" fill="#f3ee27"/>
<rect x="265" y="78.33" width="10" height="2.448" fill="#f3f027"/>
<rect x="265" y="80.778" width="10" height="2.448" fill="#f3ee27"/>
<rect x="265" y="83.226" width="10" height="2.447" fill="#f3f027"/>
<rect x="265" y="85.673" width="10" height="2.448" fill="#f3ee27"/>
<rect x="265" y="88.121" width="10" height="5.630" fill="#f2f227"/>
<rect x="265" y="93.751" width="10" height="5.141" fill="#e16462"/>
<rect x="265" y="98.892" width="10" height="60.216" fill="#f1f525"/>
<rect x="265" y="159.108" width="10" height="12.239" fill="#f0f724"/>
<rect x="265" y="171.347" width="10" height="73.434" fill="#f1f525"/>
<rect x="265" y="244.781" width="10" height="73.435" fill="#f0f724"/>
<rect x="265" y="318.216" width="10" height="24.478" fill="#ea7457"/>
<rect x="265" y="342.694" width="10" height="50.306" fill="#f0f724"/>
<rect x="275" y="1.713" width="10" height="1.959" fill="#a82296"/>
<rect x="275" y="3.672" width="10" height="2.448" fill="#a11b9b"/>
<rect x="275" y="6.12" width="10" height="1.223" fill="#dc5d67"/>
<rect x="275" y="7.343" width="10" height="0.735" fill="#e56b5d"/>
<rect x="275" y="8.078" width="10" height="2.937" fill="#e16462"/>
<rect x="275" y="11.015" width="10" height="1.224" fill="#f89441"/>
<rect x="275" y="12.239" width="10" height="1.224" fill="#dc5d67"/>
<rect x="275" y="13.463" width="10" height="1.224" fill="#f58b47"/>
<rect x="275" y="14.687" width="10" height="2.448" fill="#fb9f3a"/>
<rect x="275" y="17.135" width="10" height="3.671" fill="#f79143"/>
<rect x="275" y="20.806" width="10" height="1.224" fill="#f68d45"/>
<rect x="275" y="22.03" width="10" height="1.224" fill="#fb9f3a"/>
<rect x="275" y="23.254" width="10" height="1.224" fill="#f58b47"/>
<rect x="275" y="24.478" width="10" height="4.896" fill="#f89441"/>
<rect x="275" y="29.374" width="10" height="2.448" fill="#fdae32"/>
<rect x="275" y="31.822" width="10" height="2.447" fill="#fca338"/>
<rect x="275" y="34.269" width="10" height="2.448" fill="#fdae32"/>
<rect x="275" y="36.717" width="10" height="2.448" fill="#fdb22f"/>
<rect x="275" y="39.165" width="10" height="2.448" fill="#fdab33"/>
<rect x="275" y="41.613" width="10" height="2.448" fill="#f5e926"/>
<rect x="275" y="44.061" width="10" height="4.895" fill="#f3ee27"/>
<rect x="275" y="48.956" width="10" height="4.896" fill="#f4ed27"/>
<rect x="275" y="53.852" width="10" height="2.448" fill="#f3ee27"/>
<rect x="275" y="56.3" width="10" height="4.895" fill="#f4ed27"/>
<rect x="275" y="61.195" width="10" height="4.896" fill="#f3f027"/>
<rect x="275" y="66.091" width="10" height="2.448" fill="#f3ee27"/>
<rect x="275" y="68.539" width="10" height="2.448" fill="#f2f227"/>
<rect x="275" y="70.987" width="10" height="4.895" fill="#f3ee27"/>
<rect x="275" y="75.882" width="10" height="4.896" fill="#f2f227"/>
<rect x="275" y="80.778" width="10" height="2.448" fill="#f3ee27"/>
<rect x="275" y="83.226" width="10" height="2.447" fill="#fdc627"/>
<rect x="275" y="85.673" width="10" height="2.448" fill="#f2f227"/>
<rect x="275" y="88.121" width="10" height="5.630" fill="#f3ee27"/>
<rect x="275" y="93.751" width="10" height="1.714" fill="#f3f027"/>
<rect x="275" y="95.465" width="10" height="3.427" fill="#f2f227"/>
<rect x="275" y="98.892" width="10" height="35.738" fill="#f1f525"/>
<rect x="275" y="134.63" width="10" height="12.239" fill="#fdc627"/>
<rect x="275" y="146.869" width="10" height="85.673" fill="#f1f525"/>
<rect x="275" y="232.542" width="10" height="12.239" fill="#fdc627"/>
<rect x="275" y="244.781" width="10" height="148.219" fill="#f0f724"/>
</g>
</defs>
<text x="699.20" y="32.00" font-size="16.667" text-anchor="middle">3902557, 32 profiles, 2024-02-06 to 2024-12-20</text>
<clipPath id="c00"><rect x="159.5" y="65.5" width="284.0" height="392.0"/></clipPath>
<g clip-path="url(#c00)"><use href="#hm" transform="translate(159,64.950)"/></g>
<rect x="159.50" y="65.50" width="284.00" height="392.00" fill="none" stroke="#000" stroke-width="1.1"/>
<path d="M154.00 65.50L159.60 65.50" stroke="#000" stroke-width="1.1" fill="none"/>
<text x="149.88" y="71.00" font-size="13.889" text-anchor="end">0</text>
<path d="M154.00 114.50L159.60 114.50" stroke="#000" stroke-width="1.1" fill="none"/>
<text x="148.98" y="120.00" font-size="13.889" text-anchor="end">200</text>
<path d="M154.00 163.50L159.60 163.50" stroke="#000" stroke-width="1.1" fill="none"/>
<text x="148.98" y="169.00" font-size="13.889" text-anchor="end">400</text>
<path d="M154.00 212.50L159.60 212.50" stroke="#000" stroke-width="1.1" fill="none"/>
<text x="148.98" y="218.00" font-size="13.889" text-anchor="end">600</text>
<path d="M154.00 261.50L159.60 261.50" stroke="#000" stroke-width="1.1" fill="none"/>
<text x="148.98" y="267.00" font-size="13.889" text-anchor="end">800</text>
<path d="M154.00 310.50L159.60 310.50" stroke="#000" stroke-width="1.1" fill="none"/>
<text x="148.53" y="316.00" font-size="13.889" text-anchor="end">1000</text>
<path d="M154.00 359.50L159.60 359.50" stroke="#000" stroke-width="1.1" fill="none"/>
<text x="148.53" y="365.00" font-size="13.889" text-anchor="end">1200</text>
<path d="M154.00 408.50L159.60 408.50" stroke="#000" stroke-width="1.1" fill="none"/>
<text x="148.53" y="414.00" font-size="13.889" text-anchor="end">1400</text>
<path d="M192.50 457.10L192.50 462.70" stroke="#000" stroke-width="1.1" fill="none"/>
<text x="192.09" y="478.00" font-size="13.889" text-anchor="middle">0.2</text>
<path d="M257.50 457.10L257.50 462.70" stroke="#000" stroke-width="1.1" fill="none"/>
<text x="257.47" y="478.00" font-size="13.889" text-anchor="middle">0.4</text>
<path d="M323.50 457.10L323.50 462.70" stroke="#000" stroke-width="1.1" fill="none"/>
<text x="322.86" y="478.00" font-size="13.889" text-anchor="middle">0.6</text>
<path d="M388.50 457.10L388.50 462.70" stroke="#000" stroke-width="1.1" fill="none"/>
<text x="388.24" y="478.00" font-size="13.889" text-anchor="middle">0.8</text>
<text x="443.15" y="495.50" font-size="13.889" text-anchor="end">+2.024e3</text>
<text x="300.57" y="57.15" font-size="16.667" text-anchor="middle">BBP700</text>
<rect x="461.75" y="65.45" width="19.6" height="391.65" fill="url(#pl)"/>
<rect x="461.50" y="65.50" width="20.00" height="392.00" fill="none" stroke="#000" stroke-width="1.1"/>
<path d="M481.35 407.50L486.95 407.50" stroke="#000" stroke-width="1.1" fill="none"/>
<text x="491.55" y="412.00" font-size="13.889" text-anchor="start">0.001</text>
<path d="M481.35 335.50L486.95 335.50" stroke="#000" stroke-width="1.1" fill="none"/>
<text x="491.55" y="341.00" font-size="13.889" text-anchor="start">0.002</text>
<path d="M481.35 263.50L486.95 263.50" stroke="#000" stroke-width="1.1" fill="none"/>
<text x="491.55" y="269.00" font-size="13.889" text-anchor="start">0.003</text>
<path d="M481.35 191.50L486.95 191.50" stroke="#000" stroke-width="1.1" fill="none"/>
<text x="491.55" y="197.00" font-size="13.889" text-anchor="start">0.004</text>
<path d="M481.35 120.50L486.95 120.50" stroke="#000" stroke-width="1.1" fill="none"/>
<text x="491.55" y="125.00" font-size="13.889" text-anchor="start">0.005</text>
<clipPath id="c10"><rect x="594.5" y="65.5" width="285.0" height="392.0"/></clipPath>
<g clip-path="url(#c10)"><use href="#hm" transform="translate(594,64.950)"/></g>
<rect x="594.50" y="65.50" width="285.00" height="392.00" fill="none" stroke="#000" stroke-width="1.1"/>
<path d="M589.15 65.50L594.75 65.50" stroke="#000" stroke-width="1.1" fill="none"/>
<text x="585.03" y="71.00" font-size="13.889" text-anchor="end">0</text>
<path d="M589.15 114.50L594.75 114.50" stroke="#000" stroke-width="1.1" fill="none"/>
<text x="584.13" y="120.00" font-size="13.889" text-anchor="end">200</text>
<path d="M589.15 163.50L594.75 163.50" stroke="#000" stroke-width="1.1" fill="none"/>
<text x="584.13" y="169.00" font-size="13.889" text-anchor="end">400</text>
<path d="M589.15 212.50L594.75 212.50" stroke="#000" stroke-width="1.1" fill="none"/>
<text x="584.13" y="218.00" font-size="13.889" text-anchor="end">600</text>
<path d="M589.15 261.50L594.75 261.50" stroke="#000" stroke-width="1.1" fill="none"/>
<text x="584.13" y="267.00" font-size="13.889" text-anchor="end">800</text>
<path d="M589.15 310.50L594.75 310.50" stroke="#000" stroke-width="1.1" fill="none"/>
<text x="583.68" y="316.00" font-size="13.889" text-anchor="end">1000</text>
<path d="M589.15 359.50L594.75 359.50" stroke="#000" stroke-width="1.1" fill="none"/>
<text x="583.68" y="365.00" font-size="13.889" text-anchor="end">1200</text>
<path d="M589.15 408.50L594.75 408.50" stroke="#000" stroke-width="1.1" fill="none"/>
<text x="583.68" y="414.00" font-size="13.889" text-anchor="end">1400</text>
<path d="M627.50 457.10L627.50 462.70" stroke="#000" stroke-width="1.1" fill="none"/>
<text x="627.24" y="478.00" font-size="13.889" text-anchor="middle">0.2</text>
<path d="M692.50 457.10L692.50 462.70" stroke="#000" stroke-width="1.1" fill="none"/>
<text x="692.62" y="478.00" font-size="13.889" text-anchor="middle">0.4</text>
<path d="M758.50 457.10L758.50 462.70" stroke="#000" stroke-width="1.1" fill="none"/>
<text x="758.01" y="478.00" font-size="13.889" text-anchor="middle">0.6</text>
<path d="M823.50 457.10L823.50 462.70" stroke="#000" stroke-width="1.1" fill="none"/>
<text x="823.39" y="478.00" font-size="13.889" text-anchor="middle">0.8</text>
<text x="878.30" y="495.50" font-size="13.889" text-anchor="end">+2.024e3</text>
<text x="735.72" y="57.15" font-size="16.667" text-anchor="middle">BBP700_ADJUSTED</text>
<rect x="896.90" y="65.45" width="19.6" height="391.65" fill="url(#pl)"/>
<rect x="896.50" y="65.50" width="20.00" height="392.00" fill="none" stroke="#000" stroke-width="1.1"/>
<path d="M916.50 407.50L922.10 407.50" stroke="#000" stroke-width="1.1" fill="none"/>
<text x="926.70" y="412.00" font-size="13.889" text-anchor="start">0.001</text>
<path d="M916.50 335.50L922.10 335.50" stroke="#000" stroke-width="1.1" fill="none"/>
<text x="926.70" y="341.00" font-size="13.889" text-anchor="start">0.002</text>
<path d="M916.50 263.50L922.10 263.50" stroke="#000" stroke-width="1.1" fill="none"/>
<text x="926.70" y="269.00" font-size="13.889" text-anchor="start">0.003</text>
<path d="M916.50 191.50L922.10 191.50" stroke="#000" stroke-width="1.1" fill="none"/>
<text x="926.70" y="197.00" font-size="13.889" text-anchor="start">0.004</text>
<path d="M916.50 120.50L922.10 120.50" stroke="#000" stroke-width="1.1" fill="none"/>
<text x="926.70" y="125.00" font-size="13.889" text-anchor="start">0.005</text>
<clipPath id="c11"><rect x="594.5" y="552.5" width="285.0" height="391.0"/></clipPath>
<g clip-path="url(#c11)"><use href="#hm" transform="translate(594,551.520)"/></g>
<rect x="594.50" y="552.50" width="285.00" height="391.00" fill="none" stroke="#000" stroke-width="1.1"/>
<path d="M589.15 552.50L594.75 552.50" stroke="#000" stroke-width="1.1" fill="none"/>
<text x="585.03" y="557.00" font-size="13.889" text-anchor="end">0</text>
<path d="M589.15 600.50L594.75 600.50" stroke="#000" stroke-width="1.1" fill="none"/>
<text x="584.13" y="606.00" font-size="13.889" text-anchor="end">200</text>
<path d="M589.15 649.50L594.75 649.50" stroke="#000" stroke-width="1.1" fill="none"/>
<text x="584.13" y="655.00" font-size="13.889" text-anchor="end">400</text>
<path d="M589.15 698.50L594.75 698.50" stroke="#000" stroke-width="1.1" fill="none"/>
<text x="584.13" y="704.00" font-size="13.889" text-anchor="end">600</text>
<path d="M589.15 747.50L594.75 747.50" stroke="#000" stroke-width="1.1" fill="none"/>
<text x="584.13" y="753.00" font-size="13.889" text-anchor="end">800</text>
<path d="M589.15 796.50L594.75 796.50" stroke="#000" stroke-width="1.1" fill="none"/>
<text x="583.68" y="802.00" font-size="13.889" text-anchor="end">1000</text>
<path d="M589.15 845.50L594.75 845.50" stroke="#000" stroke-width="1.1" fill="none"/>
<text x="583.68" y="851.00" font-size="13.889" text-anchor="end">1200</text>
<path d="M589.15 894.50L594.75 894.50" stroke="#000" stroke-width="1.1" fill="none"/>
<text x="583.68" y="900.00" font-size="13.889" text-anchor="end">1400</text>
<path d="M627.50 943.67L627.50 949.27" stroke="#000" stroke-width="1.1" fill="none"/>
<text x="627.24" y="965.00" font-size="13.889" text-anchor="middle">0.2</text>
<path d="M692.50 943.67L692.50 949.27" stroke="#000" stroke-width="1.1" fill="none"/>
<text x="692.62" y="965.00" font-size="13.889" text-anchor="middle">0.4</text>
<path d="M758.50 943.67L758.50 949.27" stroke="#000" stroke-width="1.1" fill="none"/>
<text x="758.01" y="965.00" font-size="13.889" text-anchor="middle">0.6</text>
<path d="M823.50 943.67L823.50 949.27" stroke="#000" stroke-width="1.1" fill="none"/>
<text x="823.39" y="965.00" font-size="13.889" text-anchor="middle">0.8</text>
<text x="878.30" y="982.07" font-size="13.889" text-anchor="end">+2.024e3</text>
<text x="735.72" y="543.72" font-size="16.667" text-anchor="middle">BBP700_ADJUSTED_RO</text>
<rect x="896.90" y="552.02" width="19.6" height="391.65" fill="url(#pl)"/>
<rect x="896.50" y="552.50" width="20.00" height="391.00" fill="none" stroke="#000" stroke-width="1.1"/>
<path d="M916.50 893.50L922.10 893.50" stroke="#000" stroke-width="1.1" fill="none"/>
<text x="926.70" y="899.00" font-size="13.889" text-anchor="start">0.001</text>
<path d="M916.50 821.50L922.10 821.50" stroke="#000" stroke-width="1.1" fill="none"/>
<text x="926.70" y="827.00" font-size="13.889" text-anchor="start">0.002</text>
<path d="M916.50 750.50L922.10 750.50" stroke="#000" stroke-width="1.1" fill="none"/>
<text x="926.70" y="756.00" font-size="13.889" text-anchor="start">0.003</text>
<path d="M916.50 678.50L922.10 678.50" stroke="#000" stroke-width="1.1" fill="none"/>
<text x="926.70" y="684.00" font-size="13.889" text-anchor="start">0.004</text>
<path d="M916.50 606.50L922.10 606.50" stroke="#000" stroke-width="1.1" fill="none"/>
<text x="926.70" y="612.00" font-size="13.889" text-anchor="start">0.005</text>
<g transform="translate(1029,64.950)" shape-rendering="crispEdges">
<path d="M1 1.713H285V393H64V367.172H18V342.694H1Z" fill="#377eb8"/>
</g>
<rect x="1029.50" y="65.50" width="285.00" height="392.00" fill="none" stroke="#000" stroke-width="1.1"/>
<path d="M1024.30 65.50L1029.90 65.50" stroke="#000" stroke-width="1.1" fill="none"/>
<text x="1020.18" y="71.00" font-size="13.889" text-anchor="end">0</text>
<path d="M1024.30 114.50L1029.90 114.50" stroke="#000" stroke-width="1.1" fill="none"/>
<text x="1019.28" y="120.00" font-size="13.889" text-anchor="end">200</text>
<path d="M1024.30 163.50L1029.90 163.50" stroke="#000" stroke-width="1.1" fill="none"/>
<text x="1019.28" y="169.00" font-size="13.889" text-anchor="end">400</text>
<path d="M1024.30 212.50L1029.90 212.50" stroke="#000" stroke-width="1.1" fill="none"/>
<text x="1019.28" y="218.00" font-size="13.889" text-anchor="end">600</text>
<path d="M1024.30 261.50L1029.90 261.50" stroke="#000" stroke-width="1.1" fill="none"/>
<text x="1019.28" y="267.00" font-size="13.889" text-anchor="end">800</text>
<path d="M1024.30 310.50L1029.90 310.50" stroke="#000" stroke-width="1.1" fill="none"/>
<text x="1018.83" y="316.00" font-size="13.889" text-anchor="end">1000</text>
<path d="M1024.30 359.50L1029.90 359.50" stroke="#000" stroke-width="1.1" fill="none"/>
<text x="1018.83" y="365.00" font-size="13.889" text-anchor="end">1200</text>
<path d="M1024.30 408.50L1029.90 408.50" stroke="#000" stroke-width="1.1" fill="none"/>
<text x="1018.83" y="414.00" font-size="13.889" text-anchor="end">1400</text>
<path d="M1062.50 457.10L1062.50 462.70" stroke="#000" stroke-width="1.1" fill="none"/>
<text x="1062.39" y="478.00" font-size="13.889" text-anchor="middle">0.2</text>
<path d="M1127.50 457.10L1127.50 462.70" stroke="#000" stroke-width="1.1" fill="none"/>
<text x="1127.77" y="478.00" font-size="13.889" text-anchor="middle">0.4</text>
<path d="M1193.50 457.10L1193.50 462.70" stroke="#000" stroke-width="1.1" fill="none"/>
<text x="1193.16" y="478.00" font-size="13.889" text-anchor="middle">0.6</text>
<path d="M1258.50 457.10L1258.50 462.70" stroke="#000" stroke-width="1.1" fill="none"/>
<text x="1258.54" y="478.00" font-size="13.889" text-anchor="middle">0.8</text>
<text x="1313.45" y="495.50" font-size="13.889" text-anchor="end">+2.024e3</text>
<text x="1170.88" y="57.15" font-size="16.667" text-anchor="middle">BBP700_ADJUSTED_QC</text>
<rect x="1332.05" y="413.58" width="19.6" height="43.82" fill="#e41a1c"/>
<rect x="1332.05" y="370.07" width="19.6" height="43.82" fill="#377eb8"/>
<rect x="1332.05" y="326.55" width="19.6" height="43.82" fill="#4daf4a"/>
<rect x="1332.05" y="283.03" width="19.6" height="43.82" fill="#984ea3"/>
<rect x="1332.05" y="239.52" width="19.6" height="43.82" fill="#ff7f00"/>
<rect x="1332.05" y="196.00" width="19.6" height="43.82" fill="#ffff33"/>
<rect x="1332.05" y="152.48" width="19.6" height="43.82" fill="#a65628"/>
<rect x="1332.05" y="108.97" width="19.6" height="43.82" fill="#f781bf"/>
<rect x="1332.05" y="65.45" width="19.6" height="43.82" fill="#999999"/>
<rect x="1332.50" y="65.50" width="19.00" height="392.00" fill="none" stroke="#000" stroke-width="1.1"/>
<path d="M1351.65 457.50L1357.25 457.50" stroke="#000" stroke-width="1.1" fill="none"/>
<text x="1361.85" y="463.00" font-size="13.889" text-anchor="start">0</text>
<path d="M1351.65 408.50L1357.25 408.50" stroke="#000" stroke-width="1.1" fill="none"/>
<text x="1361.85" y="414.00" font-size="13.889" text-anchor="start">1</text>
<path d="M1351.65 359.50L1357.25 359.50" stroke="#000" stroke-width="1.1" fill="none"/>
<text x="1361.85" y="365.00" font-size="13.889" text-anchor="start">2</text>
<path d="M1351.65 310.50L1357.25 310.50" stroke="#000" stroke-width="1.1" fill="none"/>
<text x="1361.85" y="316.00" font-size="13.889" text-anchor="start">3</text>
<path d="M1351.65 261.50L1357.25 261.50" stroke="#000" stroke-width="1.1" fill="none"/>
<text x="1361.85" y="267.00" font-size="13.889" text-anchor="start">4</text>
<path d="M1351.65 212.50L1357.25 212.50" stroke="#000" stroke-width="1.1" fill="none"/>
<text x="1361.85" y="218.00" font-size="13.889" text-anchor="start">5</text>
<path d="M1351.65 163.50L1357.25 163.50" stroke="#000" stroke-width="1.1" fill="none"/>
<text x="1361.85" y="169.00" font-size="13.889" text-anchor="start">6</text>
<path d="M1351.65 114.50L1357.25 114.50" stroke="#000" stroke-width="1.1" fill="none"/>
<text x="1361.85" y="120.00" font-size="13.889" text-anchor="start">7</text>
<path d="M1351.65 65.50L1357.25 65.50" stroke="#000" stroke-width="1.1" fill="none"/>
<text x="1361.85" y="71.00" font-size="13.889" text-anchor="start">8</text>
<clipPath id="mc"><rect x="159.6" y="552.02" width="355.2" height="391.65"/></clipPath>
<g clip-path="url(#mc)" fill="#1f77b4">
<circle cx="159.5" cy="747.5" r="1.65"/>
<circle cx="170.5" cy="747.5" r="1.65"/>
<circle cx="181.5" cy="747.5" r="1.65"/>
<circle cx="193.5" cy="747.5" r="1.65"/>
<circle cx="204.5" cy="747.5" r="1.65"/>
<circle cx="216.5" cy="747.5" r="1.65"/>
<circle cx="227.5" cy="747.5" r="1.65"/>
<circle cx="239.5" cy="747.5" r="1.65"/>
<circle cx="250.5" cy="747.5" r="1.65"/>
<circle cx="262.5" cy="747.5" r="1.65"/>
<circle cx="273.5" cy="747.5" r="1.65"/>
<circle cx="285.5" cy="747.5" r="1.65"/>
<circle cx="296.5" cy="747.5" r="1.65"/>
<circle cx="307.5" cy="747.5" r="1.65"/>
<circle cx="320.5" cy="747.5" r="1.65"/>
<circle cx="331.5" cy="747.5" r="1.65"/>
<circle cx="342.5" cy="747.5" r="1.65"/>
<circle cx="353.5" cy="747.5" r="1.65"/>
<circle cx="366.5" cy="747.5" r="1.65"/>
<circle cx="377.5" cy="747.5" r="1.65"/>
<circle cx="388.5" cy="747.5" r="1.65"/>
<circle cx="399.5" cy="747.5" r="1.65"/>
<circle cx="411.5" cy="747.5" r="1.65"/>
<circle cx="423.5" cy="747.5" r="1.65"/>
<circle cx="434.5" cy="747.5" r="1.65"/>
<circle cx="445.5" cy="747.5" r="1.65"/>
<circle cx="457.5" cy="747.5" r="1.65"/>
<circle cx="469.5" cy="747.5" r="1.65"/>
<circle cx="480.5" cy="747.5" r="1.65"/>
<circle cx="491.5" cy="747.5" r="1.65"/>
<circle cx="503.5" cy="747.5" r="1.65"/>
<circle cx="514.5" cy="747.5" r="1.65"/>
</g>
<rect x="159.50" y="552.50" width="355.00" height="391.00" fill="none" stroke="#000" stroke-width="1.1"/>
<path d="M154.00 552.50L159.60 552.50" stroke="#000" stroke-width="1.1" fill="none"/>
<text x="148.98" y="557.00" font-size="13.889" text-anchor="end">Delayed Mode</text>
<path d="M154.00 747.50L159.60 747.50" stroke="#000" stroke-width="1.1" fill="none"/>
<text x="148.98" y="753.00" font-size="13.889" text-anchor="end">Real Time Adjusted</text>
<path d="M154.00 943.50L159.60 943.50" stroke="#000" stroke-width="1.1" fill="none"/>
<text x="148.98" y="949.00" font-size="13.889" text-anchor="end">Real Time</text>
<path d="M200.50 943.67L200.50 949.27" stroke="#000" stroke-width="1.1" fill="none"/>
<text x="200.20" y="965.00" font-size="13.889" text-anchor="middle">0.2</text>
<path d="M282.50 943.67L282.50 949.27" stroke="#000" stroke-width="1.1" fill="none"/>
<text x="281.84" y="965.00" font-size="13.889" text-anchor="middle">0.4</text>
<path d="M363.50 943.67L363.50 949.27" stroke="#000" stroke-width="1.1" fill="none"/>
<text x="363.48" y="965.00" font-size="13.889" text-anchor="middle">0.6</text>
<path d="M445.50 943.67L445.50 949.27" stroke="#000" stroke-width="1.1" fill="none"/>
<text x="445.12" y="965.00" font-size="13.889" text-anchor="middle">0.8</text>
<text x="514.00" y="982.07" font-size="13.889" text-anchor="end">+2.024e3</text>
<text x="333.70" y="525.72" font-size="16.667" text-anchor="middle">Mode. Blue=D, Red=RT,</text>
<text x="335.70" y="542.62" font-size="16.667" text-anchor="middle">Gray=Real Time Adjusted</text>
</svg>
</body></html>
